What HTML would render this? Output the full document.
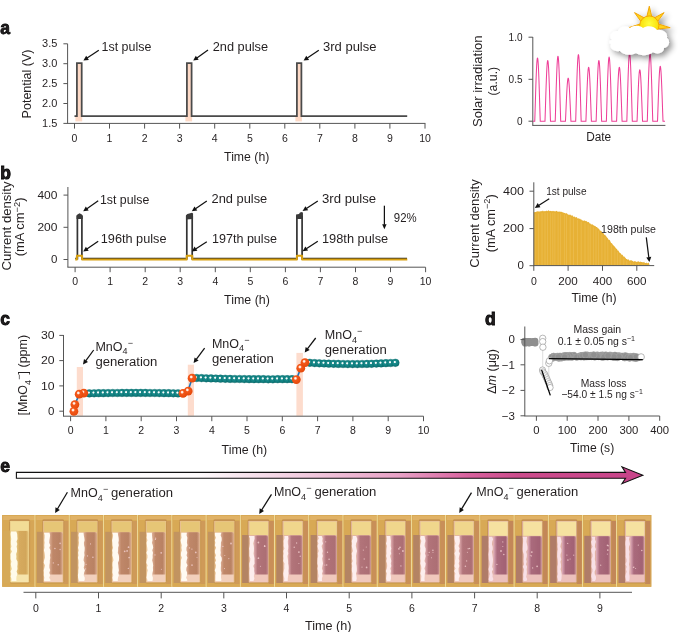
<!DOCTYPE html><html><head><meta charset="utf-8"><style>html,body{margin:0;padding:0;background:#fff;width:685px;height:632px;overflow:hidden}svg{display:block;will-change:transform}text{font-family:"Liberation Sans",sans-serif;fill:#231f20}</style></head><body>
<svg width="685" height="632" viewBox="0 0 685 632">
<defs><linearGradient id="garrow" gradientUnits="userSpaceOnUse" x1="16" x2="643" y1="0" y2="0"><stop offset="0" stop-color="#ffffff"/><stop offset="0.29" stop-color="#fefbfc"/><stop offset="0.36" stop-color="#f8e6ef"/><stop offset="0.61" stop-color="#e8a2c6"/><stop offset="0.72" stop-color="#d8629e"/><stop offset="0.80" stop-color="#cc4c8c"/><stop offset="1" stop-color="#c8448a"/></linearGradient><radialGradient id="gsun" cx="0.5" cy="0.4" r="0.6"><stop offset="0" stop-color="#ffff40"/><stop offset="1" stop-color="#f8d800"/></radialGradient><filter id="shadow" x="-30%" y="-30%" width="170%" height="180%"><feGaussianBlur in="SourceAlpha" stdDeviation="3.0"/><feOffset dx="2.5" dy="2.5" result="b"/><feComponentTransfer><feFuncA type="linear" slope="0.45"/></feComponentTransfer><feMerge><feMergeNode/><feMergeNode in="SourceGraphic"/></feMerge></filter><filter id="blur1"><feGaussianBlur stdDeviation="0.6"/></filter><filter id="blur2"><feGaussianBlur stdDeviation="1.0"/></filter></defs>
<text x="0.3" y="34.0" font-size="17.5" text-anchor="start" font-weight="bold" fill="#000" stroke="#000" stroke-width="0.8">a</text>
<text x="0.3" y="179.0" font-size="17.5" text-anchor="start" font-weight="bold" fill="#000" stroke="#000" stroke-width="0.8">b</text>
<text x="0.3" y="325.0" font-size="17.5" text-anchor="start" font-weight="bold" fill="#000" stroke="#000" stroke-width="0.8">c</text>
<text x="485.0" y="325.4" font-size="17.5" text-anchor="start" font-weight="bold" fill="#000" stroke="#000" stroke-width="0.8">d</text>
<text x="0.3" y="472.4" font-size="17.5" text-anchor="start" font-weight="bold" fill="#000" stroke="#000" stroke-width="0.8">e</text>
<rect x="76.9" y="63" width="4.8" height="54" fill="#fdd9c6"/>
<rect x="75.4" y="116.5" width="6.8" height="4.9" fill="#fdd9c6"/>
<rect x="186.9" y="63" width="4.7" height="54" fill="#fdd9c6"/>
<rect x="185.4" y="116.5" width="6.7" height="4.9" fill="#fdd9c6"/>
<rect x="296.9" y="63" width="4.5" height="54" fill="#fdd9c6"/>
<rect x="295.4" y="116.5" width="6.5" height="4.9" fill="#fdd9c6"/>
<line x1="67.6" y1="43.8" x2="67.6" y2="123.4" stroke="#555" stroke-width="1" />
<line x1="67.1" y1="123.4" x2="425.4" y2="123.4" stroke="#555" stroke-width="1" />
<line x1="63.4" y1="43.8" x2="67.6" y2="43.8" stroke="#555" stroke-width="1" />
<text x="57.4" y="47.4" font-size="10.5" text-anchor="end" textLength="15.3" lengthAdjust="spacingAndGlyphs" >3.5</text>
<line x1="63.4" y1="63.7" x2="67.6" y2="63.7" stroke="#555" stroke-width="1" />
<text x="57.4" y="67.3" font-size="10.5" text-anchor="end" textLength="15.3" lengthAdjust="spacingAndGlyphs" >3.0</text>
<line x1="63.4" y1="83.6" x2="67.6" y2="83.6" stroke="#555" stroke-width="1" />
<text x="57.4" y="87.2" font-size="10.5" text-anchor="end" textLength="15.3" lengthAdjust="spacingAndGlyphs" >2.5</text>
<line x1="63.4" y1="103.5" x2="67.6" y2="103.5" stroke="#555" stroke-width="1" />
<text x="57.4" y="107.1" font-size="10.5" text-anchor="end" textLength="15.3" lengthAdjust="spacingAndGlyphs" >2.0</text>
<line x1="63.4" y1="123.4" x2="67.6" y2="123.4" stroke="#555" stroke-width="1" />
<text x="57.4" y="127.0" font-size="10.5" text-anchor="end" textLength="15.3" lengthAdjust="spacingAndGlyphs" >1.5</text>
<line x1="74.5" y1="123.4" x2="74.5" y2="128.6" stroke="#555" stroke-width="1" />
<text x="74.5" y="141.8" font-size="10.5" text-anchor="middle" >0</text>
<line x1="109.5" y1="123.4" x2="109.5" y2="128.6" stroke="#555" stroke-width="1" />
<text x="109.5" y="141.8" font-size="10.5" text-anchor="middle" >1</text>
<line x1="144.6" y1="123.4" x2="144.6" y2="128.6" stroke="#555" stroke-width="1" />
<text x="144.6" y="141.8" font-size="10.5" text-anchor="middle" >2</text>
<line x1="179.6" y1="123.4" x2="179.6" y2="128.6" stroke="#555" stroke-width="1" />
<text x="179.6" y="141.8" font-size="10.5" text-anchor="middle" >3</text>
<line x1="214.7" y1="123.4" x2="214.7" y2="128.6" stroke="#555" stroke-width="1" />
<text x="214.7" y="141.8" font-size="10.5" text-anchor="middle" >4</text>
<line x1="249.8" y1="123.4" x2="249.8" y2="128.6" stroke="#555" stroke-width="1" />
<text x="249.8" y="141.8" font-size="10.5" text-anchor="middle" >5</text>
<line x1="284.8" y1="123.4" x2="284.8" y2="128.6" stroke="#555" stroke-width="1" />
<text x="284.8" y="141.8" font-size="10.5" text-anchor="middle" >6</text>
<line x1="319.8" y1="123.4" x2="319.8" y2="128.6" stroke="#555" stroke-width="1" />
<text x="319.8" y="141.8" font-size="10.5" text-anchor="middle" >7</text>
<line x1="354.9" y1="123.4" x2="354.9" y2="128.6" stroke="#555" stroke-width="1" />
<text x="354.9" y="141.8" font-size="10.5" text-anchor="middle" >8</text>
<line x1="389.9" y1="123.4" x2="389.9" y2="128.6" stroke="#555" stroke-width="1" />
<text x="389.9" y="141.8" font-size="10.5" text-anchor="middle" >9</text>
<line x1="425.0" y1="123.4" x2="425.0" y2="128.6" stroke="#555" stroke-width="1" />
<text x="425.0" y="141.8" font-size="10.5" text-anchor="middle" >10</text>
<path d="M74.5,116.0 H76.9 V63.1 H81.7 V116.0 H186.9 V63.1 H191.6 V116.0 H296.9 V63.1 H301.4 V116.0 H407.2" fill="none" stroke="#4a4a4a" stroke-width="1.75"/>
<text x="101.5" y="51.0" font-size="12.5" text-anchor="start" textLength="49.8" lengthAdjust="spacingAndGlyphs" >1st pulse</text>
<text x="212.7" y="50.9" font-size="12.5" text-anchor="start" textLength="55.4" lengthAdjust="spacingAndGlyphs" >2nd pulse</text>
<text x="323.0" y="50.9" font-size="12.5" text-anchor="start" textLength="53.5" lengthAdjust="spacingAndGlyphs" >3rd pulse</text>
<line x1="98.8" y1="50.3" x2="87.1" y2="58.1" stroke="#111" stroke-width="1.25" />
<polygon points="83.4,60.6 86.2,55.7 88.9,59.9" fill="#111"/>
<line x1="208.0" y1="50.1" x2="196.9" y2="58.0" stroke="#111" stroke-width="1.25" />
<polygon points="193.2,60.6 195.8,55.7 198.7,59.7" fill="#111"/>
<line x1="318.8" y1="50.3" x2="307.3" y2="58.1" stroke="#111" stroke-width="1.25" />
<polygon points="303.6,60.6 306.3,55.7 309.1,59.9" fill="#111"/>
<text x="224.1" y="160.8" font-size="12.5" text-anchor="start" textLength="45.2" lengthAdjust="spacingAndGlyphs" >Time (h)</text>
<text transform="translate(30.6,84.0) rotate(-90)" x="0" y="0" font-size="12.5" text-anchor="middle" textLength="68.8" lengthAdjust="spacingAndGlyphs">Potential (V)</text>
<line x1="532.8" y1="37.0" x2="532.8" y2="125.4" stroke="#555" stroke-width="1" />
<line x1="532.3" y1="125.4" x2="665.4" y2="125.4" stroke="#555" stroke-width="1" />
<line x1="528.5" y1="37.2" x2="532.8" y2="37.2" stroke="#555" stroke-width="1" />
<text x="522.5" y="40.5" font-size="10" text-anchor="end" >1.0</text>
<line x1="528.5" y1="79.3" x2="532.8" y2="79.3" stroke="#555" stroke-width="1" />
<text x="522.5" y="82.6" font-size="10" text-anchor="end" >0.5</text>
<line x1="528.5" y1="121.2" x2="532.8" y2="121.2" stroke="#555" stroke-width="1" />
<text x="522.5" y="124.5" font-size="10" text-anchor="end" >0</text>
<polyline fill="none" stroke="#ee3f98" stroke-width="1.05" points="533.00,121.20 534.75,121.20 534.80,119.80 534.86,118.19 534.91,116.51 534.97,114.77 535.02,112.99 535.08,111.19 535.13,109.37 535.19,107.54 535.25,105.69 535.30,103.85 535.36,102.00 535.41,100.16 535.47,98.33 535.52,96.51 535.58,94.71 535.63,92.92 535.68,91.15 535.74,89.41 535.79,87.69 535.85,86.00 535.90,84.34 535.96,82.72 536.01,81.13 536.07,79.58 536.12,78.07 536.18,76.60 536.24,75.17 536.29,73.79 536.35,72.46 536.40,71.18 536.46,69.95 536.51,68.78 536.57,67.65 536.62,66.59 536.67,65.58 536.73,64.63 536.78,63.74 536.84,62.91 536.89,62.14 536.95,61.44 537.00,60.80 537.06,60.23 537.12,59.72 537.17,59.28 537.23,58.90 537.28,58.60 537.34,58.36 537.39,58.19 537.45,58.08 537.50,58.05 537.55,58.08 537.61,58.19 537.66,58.36 537.72,58.60 537.77,58.90 537.83,59.28 537.88,59.72 537.94,60.23 538.00,60.80 538.05,61.44 538.11,62.14 538.16,62.91 538.22,63.74 538.27,64.63 538.33,65.58 538.38,66.59 538.43,67.65 538.49,68.78 538.54,69.95 538.60,71.18 538.65,72.46 538.71,73.79 538.76,75.17 538.82,76.60 538.88,78.07 538.93,79.58 538.99,81.13 539.04,82.72 539.10,84.34 539.15,86.00 539.21,87.69 539.26,89.41 539.32,91.15 539.37,92.92 539.42,94.71 539.48,96.51 539.53,98.33 539.59,100.16 539.64,102.00 539.70,103.85 539.75,105.69 539.81,107.54 539.87,109.37 539.92,111.19 539.98,112.99 540.03,114.77 540.09,116.51 540.14,118.19 540.20,119.80 540.25,121.20 544.98,121.20 545.03,119.85 545.09,118.31 545.14,116.70 545.20,115.03 545.25,113.32 545.31,111.59 545.37,109.84 545.42,108.08 545.48,106.31 545.53,104.54 545.59,102.77 545.64,101.01 545.70,99.25 545.75,97.50 545.81,95.77 545.86,94.05 545.91,92.35 545.97,90.68 546.02,89.03 546.08,87.41 546.13,85.82 546.19,84.26 546.25,82.73 546.30,81.24 546.36,79.79 546.41,78.38 546.47,77.01 546.52,75.69 546.58,74.41 546.63,73.18 546.69,72.00 546.74,70.87 546.80,69.80 546.85,68.77 546.90,67.80 546.96,66.89 547.01,66.04 547.07,65.24 547.12,64.51 547.18,63.83 547.24,63.22 547.29,62.67 547.35,62.18 547.40,61.76 547.46,61.40 547.51,61.10 547.57,60.87 547.62,60.71 547.68,60.61 547.73,60.58 547.78,60.61 547.84,60.71 547.89,60.87 547.95,61.10 548.00,61.40 548.06,61.76 548.12,62.18 548.17,62.67 548.23,63.22 548.28,63.83 548.34,64.51 548.39,65.24 548.45,66.04 548.50,66.89 548.56,67.80 548.61,68.77 548.66,69.80 548.72,70.87 548.77,72.00 548.83,73.18 548.88,74.41 548.94,75.69 549.00,77.01 549.05,78.38 549.11,79.79 549.16,81.24 549.22,82.73 549.27,84.26 549.33,85.82 549.38,87.41 549.44,89.03 549.49,90.68 549.55,92.35 549.60,94.05 549.65,95.77 549.71,97.50 549.76,99.25 549.82,101.01 549.88,102.77 549.93,104.54 549.99,106.31 550.04,108.08 550.10,109.84 550.15,111.59 550.21,113.32 550.26,115.03 550.32,116.70 550.37,118.31 550.43,119.85 550.48,121.20 555.21,121.20 555.26,119.76 555.32,118.11 555.38,116.38 555.43,114.60 555.49,112.78 555.54,110.92 555.60,109.05 555.65,107.17 555.71,105.28 555.76,103.39 555.82,101.49 555.87,99.60 555.93,97.72 555.98,95.85 556.04,94.00 556.09,92.17 556.14,90.35 556.20,88.56 556.25,86.80 556.31,85.06 556.37,83.36 556.42,81.69 556.48,80.06 556.53,78.47 556.59,76.92 556.64,75.41 556.70,73.95 556.75,72.53 556.81,71.16 556.86,69.85 556.92,68.59 556.97,67.38 557.03,66.23 557.08,65.13 557.13,64.10 557.19,63.12 557.25,62.21 557.30,61.36 557.36,60.57 557.41,59.85 557.47,59.19 557.52,58.60 557.58,58.08 557.63,57.63 557.69,57.24 557.74,56.93 557.80,56.68 557.85,56.51 557.91,56.40 557.96,56.37 558.01,56.40 558.07,56.51 558.12,56.68 558.18,56.93 558.24,57.24 558.29,57.63 558.35,58.08 558.40,58.60 558.46,59.19 558.51,59.85 558.57,60.57 558.62,61.36 558.68,62.21 558.73,63.12 558.79,64.10 558.84,65.13 558.89,66.23 558.95,67.38 559.00,68.59 559.06,69.85 559.12,71.16 559.17,72.53 559.23,73.95 559.28,75.41 559.34,76.92 559.39,78.47 559.45,80.06 559.50,81.69 559.56,83.36 559.61,85.06 559.67,86.80 559.72,88.56 559.78,90.35 559.83,92.17 559.88,94.00 559.94,95.85 560.00,97.72 560.05,99.60 560.11,101.49 560.16,103.39 560.22,105.28 560.27,107.17 560.33,109.05 560.38,110.92 560.44,112.78 560.49,114.60 560.55,116.38 560.60,118.11 560.66,119.76 560.71,121.20 565.44,121.20 565.50,120.25 565.55,119.16 565.61,118.01 565.66,116.83 565.72,115.62 565.77,114.39 565.83,113.16 565.88,111.91 565.94,110.66 565.99,109.40 566.05,108.15 566.10,106.90 566.16,105.65 566.21,104.41 566.27,103.19 566.32,101.97 566.38,100.77 566.43,99.58 566.49,98.41 566.54,97.27 566.60,96.14 566.65,95.03 566.71,93.95 566.76,92.90 566.82,91.87 566.87,90.87 566.93,89.90 566.98,88.96 567.04,88.06 567.09,87.19 567.15,86.35 567.20,85.55 567.26,84.79 567.31,84.06 567.37,83.38 567.42,82.73 567.48,82.13 567.53,81.56 567.59,81.04 567.64,80.56 567.70,80.13 567.75,79.74 567.81,79.39 567.86,79.09 567.92,78.84 567.97,78.63 568.03,78.47 568.08,78.35 568.14,78.28 568.19,78.26 568.25,78.28 568.30,78.35 568.36,78.47 568.41,78.63 568.47,78.84 568.52,79.09 568.58,79.39 568.63,79.74 568.69,80.13 568.74,80.56 568.80,81.04 568.85,81.56 568.91,82.13 568.96,82.73 569.02,83.38 569.07,84.06 569.12,84.79 569.18,85.55 569.24,86.35 569.29,87.19 569.35,88.06 569.40,88.96 569.46,89.90 569.51,90.87 569.57,91.87 569.62,92.90 569.68,93.95 569.73,95.03 569.79,96.14 569.84,97.27 569.90,98.41 569.95,99.58 570.01,100.77 570.06,101.97 570.12,103.19 570.17,104.41 570.23,105.65 570.28,106.90 570.34,108.15 570.39,109.40 570.45,110.66 570.50,111.91 570.56,113.16 570.61,114.39 570.67,115.62 570.72,116.83 570.78,118.01 570.83,119.16 570.89,120.25 570.94,121.20 575.67,121.20 575.72,119.72 575.78,118.03 575.83,116.26 575.89,114.43 575.94,112.56 576.00,110.66 576.05,108.74 576.11,106.81 576.16,104.87 576.22,102.92 576.27,100.98 576.33,99.04 576.38,97.11 576.44,95.20 576.50,93.29 576.55,91.41 576.60,89.55 576.66,87.71 576.71,85.90 576.77,84.13 576.82,82.38 576.88,80.67 576.93,78.99 576.99,77.36 577.04,75.77 577.10,74.22 577.15,72.72 577.21,71.27 577.26,69.86 577.32,68.51 577.38,67.22 577.43,65.98 577.49,64.80 577.54,63.67 577.59,62.61 577.65,61.61 577.70,60.67 577.76,59.80 577.81,58.99 577.87,58.25 577.92,57.58 577.98,56.98 578.03,56.44 578.09,55.98 578.14,55.58 578.20,55.26 578.25,55.01 578.31,54.83 578.37,54.72 578.42,54.68 578.47,54.72 578.53,54.83 578.58,55.01 578.64,55.26 578.69,55.58 578.75,55.98 578.80,56.44 578.86,56.98 578.91,57.58 578.97,58.25 579.02,58.99 579.08,59.80 579.13,60.67 579.19,61.61 579.25,62.61 579.30,63.67 579.35,64.80 579.41,65.98 579.46,67.22 579.52,68.51 579.57,69.86 579.63,71.27 579.68,72.72 579.74,74.22 579.79,75.77 579.85,77.36 579.90,78.99 579.96,80.67 580.01,82.38 580.07,84.13 580.12,85.90 580.18,87.71 580.24,89.55 580.29,91.41 580.34,93.29 580.40,95.20 580.45,97.11 580.51,99.04 580.56,100.98 580.62,102.92 580.67,104.87 580.73,106.81 580.78,108.74 580.84,110.66 580.89,112.56 580.95,114.43 581.00,116.26 581.06,118.03 581.12,119.72 581.17,121.20 585.90,121.20 585.95,120.00 586.01,118.63 586.06,117.20 586.12,115.71 586.17,114.20 586.23,112.66 586.28,111.10 586.34,109.54 586.39,107.97 586.45,106.39 586.50,104.82 586.56,103.25 586.62,101.69 586.67,100.13 586.73,98.59 586.78,97.07 586.83,95.56 586.89,94.07 586.94,92.61 587.00,91.16 587.05,89.75 587.11,88.36 587.16,87.01 587.22,85.68 587.27,84.39 587.33,83.14 587.38,81.92 587.44,80.75 587.50,79.61 587.55,78.52 587.61,77.47 587.66,76.46 587.72,75.51 587.77,74.60 587.82,73.74 587.88,72.93 587.93,72.17 587.99,71.46 588.04,70.81 588.10,70.21 588.15,69.66 588.21,69.17 588.26,68.74 588.32,68.36 588.38,68.04 588.43,67.78 588.49,67.58 588.54,67.43 588.60,67.34 588.65,67.31 588.70,67.34 588.76,67.43 588.81,67.58 588.87,67.78 588.92,68.04 588.98,68.36 589.03,68.74 589.09,69.17 589.14,69.66 589.20,70.21 589.25,70.81 589.31,71.46 589.37,72.17 589.42,72.93 589.48,73.74 589.53,74.60 589.58,75.51 589.64,76.46 589.69,77.47 589.75,78.52 589.80,79.61 589.86,80.75 589.91,81.92 589.97,83.14 590.02,84.39 590.08,85.68 590.13,87.01 590.19,88.36 590.25,89.75 590.30,91.16 590.36,92.61 590.41,94.07 590.47,95.56 590.52,97.07 590.57,98.59 590.63,100.13 590.68,101.69 590.74,103.25 590.79,104.82 590.85,106.39 590.90,107.97 590.96,109.54 591.01,111.10 591.07,112.66 591.12,114.20 591.18,115.71 591.24,117.20 591.29,118.63 591.35,120.00 591.40,121.20 596.13,121.20 596.18,119.85 596.24,118.31 596.29,116.70 596.35,115.03 596.40,113.32 596.46,111.59 596.51,109.84 596.57,108.08 596.62,106.31 596.68,104.54 596.74,102.77 596.79,101.01 596.85,99.25 596.90,97.50 596.96,95.77 597.01,94.05 597.06,92.35 597.12,90.68 597.17,89.03 597.23,87.41 597.28,85.82 597.34,84.26 597.39,82.73 597.45,81.24 597.50,79.79 597.56,78.38 597.62,77.01 597.67,75.69 597.73,74.41 597.78,73.18 597.84,72.00 597.89,70.87 597.95,69.80 598.00,68.77 598.05,67.80 598.11,66.89 598.16,66.04 598.22,65.24 598.27,64.51 598.33,63.83 598.38,63.22 598.44,62.67 598.50,62.18 598.55,61.76 598.61,61.40 598.66,61.10 598.72,60.87 598.77,60.71 598.83,60.61 598.88,60.58 598.93,60.61 598.99,60.71 599.04,60.87 599.10,61.10 599.15,61.40 599.21,61.76 599.26,62.18 599.32,62.67 599.38,63.22 599.43,63.83 599.49,64.51 599.54,65.24 599.60,66.04 599.65,66.89 599.71,67.80 599.76,68.77 599.81,69.80 599.87,70.87 599.92,72.00 599.98,73.18 600.03,74.41 600.09,75.69 600.14,77.01 600.20,78.38 600.25,79.79 600.31,81.24 600.37,82.73 600.42,84.26 600.48,85.82 600.53,87.41 600.59,89.03 600.64,90.68 600.70,92.35 600.75,94.05 600.80,95.77 600.86,97.50 600.91,99.25 600.97,101.01 601.02,102.77 601.08,104.54 601.13,106.31 601.19,108.08 601.25,109.84 601.30,111.59 601.36,113.32 601.41,115.03 601.47,116.70 601.52,118.31 601.58,119.85 601.63,121.20 606.36,121.20 606.41,119.78 606.47,118.15 606.52,116.45 606.58,114.68 606.63,112.88 606.69,111.06 606.75,109.21 606.80,107.35 606.86,105.49 606.91,103.62 606.97,101.75 607.02,99.88 607.08,98.03 607.13,96.18 607.19,94.35 607.24,92.54 607.29,90.75 607.35,88.99 607.40,87.24 607.46,85.53 607.51,83.85 607.57,82.21 607.62,80.60 607.68,79.02 607.74,77.49 607.79,76.00 607.85,74.56 607.90,73.16 607.96,71.81 608.01,70.52 608.07,69.27 608.12,68.08 608.18,66.94 608.23,65.86 608.28,64.84 608.34,63.87 608.39,62.97 608.45,62.13 608.50,61.36 608.56,60.64 608.62,60.00 608.67,59.42 608.73,58.90 608.78,58.45 608.84,58.07 608.89,57.76 608.95,57.52 609.00,57.35 609.06,57.24 609.11,57.21 609.16,57.24 609.22,57.35 609.27,57.52 609.33,57.76 609.38,58.07 609.44,58.45 609.50,58.90 609.55,59.42 609.61,60.00 609.66,60.64 609.72,61.36 609.77,62.13 609.83,62.97 609.88,63.87 609.94,64.84 609.99,65.86 610.04,66.94 610.10,68.08 610.15,69.27 610.21,70.52 610.26,71.81 610.32,73.16 610.38,74.56 610.43,76.00 610.49,77.49 610.54,79.02 610.60,80.60 610.65,82.21 610.71,83.85 610.76,85.53 610.82,87.24 610.87,88.99 610.93,90.75 610.98,92.54 611.03,94.35 611.09,96.18 611.14,98.03 611.20,99.88 611.25,101.75 611.31,103.62 611.37,105.49 611.42,107.35 611.48,109.21 611.53,111.06 611.59,112.88 611.64,114.68 611.70,116.45 611.75,118.15 611.81,119.78 611.86,121.20 616.59,121.20 616.64,120.00 616.70,118.63 616.75,117.20 616.81,115.71 616.87,114.20 616.92,112.66 616.98,111.10 617.03,109.54 617.09,107.97 617.14,106.39 617.20,104.82 617.25,103.25 617.31,101.69 617.36,100.13 617.42,98.59 617.47,97.07 617.52,95.56 617.58,94.07 617.63,92.61 617.69,91.16 617.75,89.75 617.80,88.36 617.86,87.01 617.91,85.68 617.97,84.39 618.02,83.14 618.08,81.92 618.13,80.75 618.19,79.61 618.24,78.52 618.30,77.47 618.35,76.46 618.41,75.51 618.46,74.60 618.51,73.74 618.57,72.93 618.62,72.17 618.68,71.46 618.74,70.81 618.79,70.21 618.85,69.66 618.90,69.17 618.96,68.74 619.01,68.36 619.07,68.04 619.12,67.78 619.18,67.58 619.23,67.43 619.29,67.34 619.34,67.31 619.39,67.34 619.45,67.43 619.50,67.58 619.56,67.78 619.62,68.04 619.67,68.36 619.73,68.74 619.78,69.17 619.84,69.66 619.89,70.21 619.95,70.81 620.00,71.46 620.06,72.17 620.11,72.93 620.17,73.74 620.22,74.60 620.27,75.51 620.33,76.46 620.38,77.47 620.44,78.52 620.50,79.61 620.55,80.75 620.61,81.92 620.66,83.14 620.72,84.39 620.77,85.68 620.83,87.01 620.88,88.36 620.94,89.75 620.99,91.16 621.05,92.61 621.10,94.07 621.16,95.56 621.21,97.07 621.26,98.59 621.32,100.13 621.38,101.69 621.43,103.25 621.49,104.82 621.54,106.39 621.60,107.97 621.65,109.54 621.71,111.10 621.76,112.66 621.82,114.20 621.87,115.71 621.93,117.20 621.98,118.63 622.04,120.00 622.09,121.20 626.82,121.20 626.88,119.68 626.93,117.95 626.99,116.13 627.04,114.26 627.10,112.34 627.15,110.39 627.21,108.42 627.26,106.44 627.32,104.45 627.37,102.46 627.43,100.47 627.48,98.48 627.54,96.50 627.59,94.54 627.65,92.59 627.70,90.66 627.75,88.75 627.81,86.87 627.87,85.01 627.92,83.19 627.98,81.40 628.03,79.64 628.09,77.92 628.14,76.25 628.20,74.62 628.25,73.03 628.31,71.49 628.36,70.00 628.42,68.56 628.47,67.18 628.53,65.85 628.58,64.58 628.64,63.37 628.69,62.22 628.75,61.13 628.80,60.10 628.86,59.14 628.91,58.25 628.97,57.42 629.02,56.66 629.08,55.97 629.13,55.35 629.19,54.80 629.24,54.33 629.30,53.92 629.35,53.59 629.41,53.33 629.46,53.15 629.52,53.04 629.57,53.00 629.62,53.04 629.68,53.15 629.74,53.33 629.79,53.59 629.85,53.92 629.90,54.33 629.96,54.80 630.01,55.35 630.07,55.97 630.12,56.66 630.18,57.42 630.23,58.25 630.29,59.14 630.34,60.10 630.40,61.13 630.45,62.22 630.50,63.37 630.56,64.58 630.62,65.85 630.67,67.18 630.73,68.56 630.78,70.00 630.84,71.49 630.89,73.03 630.95,74.62 631.00,76.25 631.06,77.92 631.11,79.64 631.17,81.40 631.22,83.19 631.28,85.01 631.33,86.87 631.39,88.75 631.44,90.66 631.50,92.59 631.55,94.54 631.61,96.50 631.66,98.48 631.72,100.47 631.77,102.46 631.83,104.45 631.88,106.44 631.94,108.42 631.99,110.39 632.05,112.34 632.10,114.26 632.16,116.13 632.21,117.95 632.27,119.68 632.32,121.20 637.05,121.20 637.10,120.06 637.16,118.75 637.21,117.38 637.27,115.97 637.32,114.53 637.38,113.06 637.43,111.58 637.49,110.09 637.54,108.59 637.60,107.09 637.65,105.59 637.71,104.09 637.76,102.60 637.82,101.12 637.88,99.65 637.93,98.20 637.98,96.76 638.04,95.34 638.09,93.95 638.15,92.57 638.20,91.22 638.26,89.90 638.31,88.61 638.37,87.35 638.42,86.12 638.48,84.92 638.53,83.76 638.59,82.64 638.64,81.56 638.70,80.52 638.75,79.52 638.81,78.56 638.87,77.65 638.92,76.78 638.97,75.96 639.03,75.19 639.08,74.47 639.14,73.79 639.19,73.17 639.25,72.60 639.30,72.08 639.36,71.61 639.41,71.20 639.47,70.84 639.52,70.53 639.58,70.28 639.63,70.09 639.69,69.95 639.75,69.87 639.80,69.84 639.85,69.87 639.91,69.95 639.96,70.09 640.02,70.28 640.07,70.53 640.13,70.84 640.18,71.20 640.24,71.61 640.29,72.08 640.35,72.60 640.40,73.17 640.46,73.79 640.51,74.47 640.57,75.19 640.62,75.96 640.68,76.78 640.73,77.65 640.79,78.56 640.84,79.52 640.90,80.52 640.95,81.56 641.01,82.64 641.06,83.76 641.12,84.92 641.17,86.12 641.23,87.35 641.28,88.61 641.34,89.90 641.39,91.22 641.45,92.57 641.50,93.95 641.56,95.34 641.62,96.76 641.67,98.20 641.72,99.65 641.78,101.12 641.83,102.60 641.89,104.09 641.94,105.59 642.00,107.09 642.05,108.59 642.11,110.09 642.16,111.58 642.22,113.06 642.27,114.53 642.33,115.97 642.38,117.38 642.44,118.75 642.50,120.06 642.55,121.20 647.28,121.20 647.33,119.70 647.39,117.99 647.44,116.20 647.50,114.34 647.55,112.45 647.61,110.52 647.66,108.58 647.72,106.62 647.77,104.66 647.83,102.69 647.88,100.72 647.94,98.76 648.00,96.81 648.05,94.87 648.11,92.94 648.16,91.03 648.21,89.15 648.27,87.29 648.32,85.46 648.38,83.66 648.43,81.89 648.49,80.15 648.54,78.46 648.60,76.80 648.65,75.19 648.71,73.62 648.76,72.10 648.82,70.63 648.88,69.21 648.93,67.85 648.99,66.54 649.04,65.28 649.10,64.08 649.15,62.95 649.20,61.87 649.26,60.86 649.31,59.91 649.37,59.02 649.42,58.21 649.48,57.46 649.53,56.78 649.59,56.16 649.64,55.62 649.70,55.15 649.75,54.75 649.81,54.42 649.87,54.17 649.92,53.99 649.98,53.88 650.03,53.84 650.08,53.88 650.14,53.99 650.19,54.17 650.25,54.42 650.30,54.75 650.36,55.15 650.41,55.62 650.47,56.16 650.52,56.78 650.58,57.46 650.63,58.21 650.69,59.02 650.75,59.91 650.80,60.86 650.86,61.87 650.91,62.95 650.96,64.08 651.02,65.28 651.07,66.54 651.13,67.85 651.18,69.21 651.24,70.63 651.29,72.10 651.35,73.62 651.40,75.19 651.46,76.80 651.51,78.46 651.57,80.15 651.62,81.89 651.68,83.66 651.74,85.46 651.79,87.29 651.85,89.15 651.90,91.03 651.95,92.94 652.01,94.87 652.06,96.81 652.12,98.76 652.17,100.72 652.23,102.69 652.28,104.66 652.34,106.62 652.39,108.58 652.45,110.52 652.50,112.45 652.56,114.34 652.62,116.20 652.67,117.99 652.73,119.70 652.78,121.20 657.51,121.20 657.56,119.98 657.62,118.59 657.67,117.13 657.73,115.63 657.78,114.09 657.84,112.53 657.89,110.95 657.95,109.36 658.00,107.76 658.06,106.16 658.12,104.56 658.17,102.97 658.23,101.38 658.28,99.80 658.34,98.24 658.39,96.69 658.44,95.16 658.50,93.65 658.55,92.16 658.61,90.70 658.66,89.26 658.72,87.85 658.77,86.47 658.83,85.13 658.88,83.82 658.94,82.55 659.00,81.31 659.05,80.11 659.11,78.96 659.16,77.85 659.22,76.79 659.27,75.77 659.33,74.79 659.38,73.87 659.43,72.99 659.49,72.17 659.54,71.40 659.60,70.68 659.65,70.02 659.71,69.41 659.76,68.86 659.82,68.36 659.88,67.92 659.93,67.54 659.99,67.21 660.04,66.94 660.10,66.74 660.15,66.59 660.21,66.50 660.26,66.47 660.31,66.50 660.37,66.59 660.42,66.74 660.48,66.94 660.53,67.21 660.59,67.54 660.64,67.92 660.70,68.36 660.75,68.86 660.81,69.41 660.87,70.02 660.92,70.68 660.98,71.40 661.03,72.17 661.09,72.99 661.14,73.87 661.19,74.79 661.25,75.77 661.30,76.79 661.36,77.85 661.41,78.96 661.47,80.11 661.52,81.31 661.58,82.55 661.63,83.82 661.69,85.13 661.75,86.47 661.80,87.85 661.86,89.26 661.91,90.70 661.97,92.16 662.02,93.65 662.08,95.16 662.13,96.69 662.18,98.24 662.24,99.80 662.29,101.38 662.35,102.97 662.40,104.56 662.46,106.16 662.51,107.76 662.57,109.36 662.62,110.95 662.68,112.53 662.74,114.09 662.79,115.63 662.85,117.13 662.90,118.59 662.96,119.98 663.01,121.20 665.00,121.20"/>
<text x="586.2" y="140.6" font-size="12.5" text-anchor="start" textLength="25.0" lengthAdjust="spacingAndGlyphs" >Date</text>
<text transform="translate(482.4,81.2) rotate(-90)" x="0" y="0" font-size="12.5" text-anchor="middle" textLength="91.5" lengthAdjust="spacingAndGlyphs">Solar irradiation</text>
<text transform="translate(496.6,81.2) rotate(-90)" x="0" y="0" font-size="12.5" text-anchor="middle" textLength="28.7" lengthAdjust="spacingAndGlyphs">(a.u.)</text>
<g filter="url(#shadow)">
<polygon points="649.3,6.2 652.1,18.0 646.5,18.0" fill="#ffd21a" stroke="#f0a000" stroke-width="0.9" stroke-linejoin="round"/><polygon points="634.5,12.6 645.5,18.5 641.8,22.7" fill="#ffd21a" stroke="#f0a000" stroke-width="0.9" stroke-linejoin="round"/><polygon points="664.1,12.6 656.8,22.7 653.1,18.5" fill="#ffd21a" stroke="#f0a000" stroke-width="0.9" stroke-linejoin="round"/><polygon points="670.2,27.7 656.5,29.1 657.0,23.5" fill="#ffd21a" stroke="#f0a000" stroke-width="0.9" stroke-linejoin="round"/><polygon points="628.9,27.6 641.6,23.5 642.1,29.1" fill="#ffd21a" stroke="#f0a000" stroke-width="0.9" stroke-linejoin="round"/>
<circle cx="649.3" cy="25.5" r="9.6" fill="url(#gsun)" stroke="#f0a000" stroke-width="0.9"/>
<path d="M612,40 C608,36 612,30 618,31 C619,27 626,25 630,28 C633,25 640,25 643,28 C647,25 655,26 657,30 C663,29 668,33 667,38 C671,41 669,47 664,48 C664,53 657,55 653,52 C649,56 640,56 636,53 C631,56 623,55 620,51 C614,52 609,48 611,44 C608,43 609,40 612,40 Z" fill="#fff"/>
</g>
<line x1="67.9" y1="187.0" x2="67.9" y2="267.2" stroke="#555" stroke-width="1" />
<line x1="67.4" y1="267.2" x2="425.5" y2="267.2" stroke="#555" stroke-width="1" />
<line x1="63.5" y1="195.1" x2="67.9" y2="195.1" stroke="#555" stroke-width="1" />
<text x="57.4" y="198.7" font-size="11.5" text-anchor="end" textLength="20.0" lengthAdjust="spacingAndGlyphs" >400</text>
<line x1="63.5" y1="227.3" x2="67.9" y2="227.3" stroke="#555" stroke-width="1" />
<text x="57.4" y="230.9" font-size="11.5" text-anchor="end" textLength="20.0" lengthAdjust="spacingAndGlyphs" >200</text>
<line x1="63.5" y1="259.5" x2="67.9" y2="259.5" stroke="#555" stroke-width="1" />
<text x="57.4" y="263.1" font-size="11.5" text-anchor="end" >0</text>
<line x1="75.1" y1="267.2" x2="75.1" y2="272.2" stroke="#555" stroke-width="1" />
<text x="75.1" y="285.4" font-size="10.5" text-anchor="middle" >0</text>
<line x1="110.1" y1="267.2" x2="110.1" y2="272.2" stroke="#555" stroke-width="1" />
<text x="110.1" y="285.4" font-size="10.5" text-anchor="middle" >1</text>
<line x1="145.2" y1="267.2" x2="145.2" y2="272.2" stroke="#555" stroke-width="1" />
<text x="145.2" y="285.4" font-size="10.5" text-anchor="middle" >2</text>
<line x1="180.2" y1="267.2" x2="180.2" y2="272.2" stroke="#555" stroke-width="1" />
<text x="180.2" y="285.4" font-size="10.5" text-anchor="middle" >3</text>
<line x1="215.3" y1="267.2" x2="215.3" y2="272.2" stroke="#555" stroke-width="1" />
<text x="215.3" y="285.4" font-size="10.5" text-anchor="middle" >4</text>
<line x1="250.3" y1="267.2" x2="250.3" y2="272.2" stroke="#555" stroke-width="1" />
<text x="250.3" y="285.4" font-size="10.5" text-anchor="middle" >5</text>
<line x1="285.4" y1="267.2" x2="285.4" y2="272.2" stroke="#555" stroke-width="1" />
<text x="285.4" y="285.4" font-size="10.5" text-anchor="middle" >6</text>
<line x1="320.4" y1="267.2" x2="320.4" y2="272.2" stroke="#555" stroke-width="1" />
<text x="320.4" y="285.4" font-size="10.5" text-anchor="middle" >7</text>
<line x1="355.5" y1="267.2" x2="355.5" y2="272.2" stroke="#555" stroke-width="1" />
<text x="355.5" y="285.4" font-size="10.5" text-anchor="middle" >8</text>
<line x1="390.5" y1="267.2" x2="390.5" y2="272.2" stroke="#555" stroke-width="1" />
<text x="390.5" y="285.4" font-size="10.5" text-anchor="middle" >9</text>
<line x1="425.6" y1="267.2" x2="425.6" y2="272.2" stroke="#555" stroke-width="1" />
<text x="425.6" y="285.4" font-size="10.5" text-anchor="middle" >10</text>
<path d="M77.4,259.5 V216.1 M81.9,259.5 V216.1" stroke="#333" stroke-width="1.7" fill="none"/>
<path d="M186.8,259.5 V216.0 M192.2,259.5 V216.0" stroke="#333" stroke-width="1.7" fill="none"/>
<path d="M296.9,259.5 V216.0 M302.1,259.5 V216.0" stroke="#333" stroke-width="1.7" fill="none"/>
<path d="M76.55,219.00 V215.60 Q76.80,214.30 79.65,213.20 Q82.50,214.30 82.75,215.60 V219.00 Z" fill="#3a3a3a"/>
<polygon points="185.95,219.6 185.95,215.3 187.4,213.9 192.0,212.8 193.05,213.6 193.05,219.0" fill="#3a3a3a"/>
<polygon points="296.05,219.0 296.05,214.5 299.0,214.1 300.0,212.4 302.0,211.9 302.95,212.8 302.95,219.0" fill="#3a3a3a"/>
<path d="M75.2,258.4 H77.4 M81.9,258.4 H186.8 M192.2,258.4 H296.9 M302.1,258.4 H407.0" stroke="#222" stroke-width="1.3"/>
<path d="M75.2,259.5 H76.9 V255.7 H82.1 V259.5 H186.7 V255.7 H192.3 V259.5 H296.9 V255.7 H302.1 V259.5 H407.3" fill="none" stroke="#d8a010" stroke-width="2.0" stroke-linejoin="round"/>
<text x="100.0" y="203.7" font-size="12.5" text-anchor="start" textLength="49.3" lengthAdjust="spacingAndGlyphs" >1st pulse</text>
<text x="211.5" y="203.1" font-size="12.5" text-anchor="start" textLength="55.7" lengthAdjust="spacingAndGlyphs" >2nd pulse</text>
<text x="322.0" y="202.9" font-size="12.5" text-anchor="start" textLength="54.2" lengthAdjust="spacingAndGlyphs" >3rd pulse</text>
<text x="100.8" y="243.4" font-size="12.5" text-anchor="start" textLength="65.7" lengthAdjust="spacingAndGlyphs" >196th pulse</text>
<text x="212.0" y="243.3" font-size="12.5" text-anchor="start" textLength="64.9" lengthAdjust="spacingAndGlyphs" >197th pulse</text>
<text x="322.0" y="243.1" font-size="12.5" text-anchor="start" textLength="66.2" lengthAdjust="spacingAndGlyphs" >198th pulse</text>
<line x1="98.2" y1="200.7" x2="86.9" y2="208.7" stroke="#111" stroke-width="1.25" />
<polygon points="83.2,211.3 85.8,206.4 88.7,210.5" fill="#111"/>
<line x1="206.8" y1="201.0" x2="195.5" y2="208.8" stroke="#111" stroke-width="1.25" />
<polygon points="191.8,211.3 194.5,206.4 197.3,210.5" fill="#111"/>
<line x1="317.8" y1="201.0" x2="306.4" y2="208.5" stroke="#111" stroke-width="1.25" />
<polygon points="302.6,211.0 305.4,206.2 308.2,210.3" fill="#111"/>
<line x1="98.2" y1="241.3" x2="86.9" y2="249.1" stroke="#111" stroke-width="1.25" />
<polygon points="83.2,251.6 85.9,246.7 88.7,250.8" fill="#111"/>
<line x1="206.8" y1="241.7" x2="195.6" y2="249.0" stroke="#111" stroke-width="1.25" />
<polygon points="191.8,251.4 194.6,246.6 197.4,250.8" fill="#111"/>
<line x1="317.8" y1="241.2" x2="306.3" y2="248.8" stroke="#111" stroke-width="1.25" />
<polygon points="302.6,251.3 305.4,246.5 308.1,250.6" fill="#111"/>
<line x1="384.4" y1="205.7" x2="384.4" y2="224.7" stroke="#111" stroke-width="1.25" />
<polygon points="384.4,229.2 382.2,224.2 386.6,224.2" fill="#111"/>
<text x="393.8" y="222.0" font-size="12.5" text-anchor="start" textLength="22.8" lengthAdjust="spacingAndGlyphs" >92%</text>
<text x="224.1" y="303.7" font-size="12.5" text-anchor="start" textLength="45.7" lengthAdjust="spacingAndGlyphs" >Time (h)</text>
<text transform="translate(10.6,226.0) rotate(-90)" x="0" y="0" font-size="12.5" text-anchor="middle" textLength="89.0" lengthAdjust="spacingAndGlyphs">Current density</text>
<text transform="translate(24.2,226.9) rotate(-90)" font-size="12.5" text-anchor="middle" textLength="58.8" lengthAdjust="spacingAndGlyphs">(mA cm<tspan dy="-4.5" font-size="9">−2</tspan><tspan dy="4.5">)</tspan></text>
<polygon fill="#e7b135" points="533.8,265.6 533.8,212.0 534.4,212.3 535.0,211.9 535.6,212.1 536.2,212.0 536.8,211.3 537.4,211.1 538.0,212.0 538.6,211.2 539.2,211.1 539.8,211.9 540.4,211.1 541.0,211.5 541.6,211.0 542.2,211.2 542.8,210.6 543.4,211.1 544.0,211.4 544.6,211.0 545.2,211.2 545.8,211.1 546.4,210.4 547.0,211.2 547.6,211.0 548.2,210.6 548.8,210.3 549.4,211.3 550.0,210.8 550.6,211.1 551.2,211.3 551.8,211.1 552.4,211.3 553.0,210.7 553.6,211.3 554.2,210.9 554.8,211.6 555.4,211.6 556.0,210.7 556.6,210.9 557.2,211.0 557.8,212.0 558.4,211.5 559.0,211.8 559.6,211.5 560.2,211.8 560.8,211.7 561.4,211.8 562.0,212.1 562.6,212.2 563.2,212.7 563.8,212.5 564.4,212.9 565.0,213.1 565.6,213.5 566.2,213.4 566.8,213.0 567.4,214.1 568.0,214.5 568.6,214.7 569.2,214.5 569.8,215.0 570.4,214.6 571.0,215.6 571.6,215.6 572.2,215.5 572.8,215.5 573.4,216.7 574.0,217.1 574.6,216.3 575.2,217.4 575.8,217.2 576.4,217.1 577.0,217.6 577.6,218.4 578.2,218.8 578.8,218.0 579.4,218.9 580.0,218.5 580.6,219.5 581.2,219.3 581.8,220.2 582.4,220.6 583.0,220.2 583.6,221.1 584.2,220.5 584.8,220.4 585.4,221.3 586.0,220.8 586.6,221.3 587.2,221.8 587.8,222.3 588.4,222.1 589.0,222.3 589.6,223.6 590.2,223.2 590.8,224.3 591.4,224.5 592.0,224.2 592.6,224.6 593.2,225.0 593.8,225.4 594.4,225.7 595.0,226.0 595.6,226.3 596.2,227.0 596.8,227.0 597.4,227.5 598.0,228.4 598.6,228.5 599.2,229.1 599.8,230.5 600.4,230.6 601.0,231.2 601.6,231.2 602.2,232.2 602.8,233.0 603.4,233.0 604.0,234.3 604.6,234.9 605.2,234.8 605.8,236.1 606.4,236.6 607.0,237.6 607.6,237.9 608.2,239.1 608.8,239.9 609.4,239.8 610.0,240.6 610.6,242.1 611.2,243.2 611.8,243.1 612.4,244.1 613.0,245.0 613.6,245.4 614.2,246.1 614.8,246.7 615.4,247.5 616.0,248.4 616.6,248.8 617.2,249.5 617.8,250.7 618.4,250.5 619.0,251.8 619.6,252.7 620.2,252.9 620.8,253.4 621.4,254.7 622.0,254.6 622.6,255.1 623.2,255.9 623.8,256.8 624.4,256.6 625.0,257.4 625.6,257.9 626.2,259.1 626.8,259.1 627.4,259.8 628.0,259.2 628.6,259.6 629.2,260.2 629.8,260.7 630.4,260.3 631.0,260.3 631.6,260.3 632.2,261.0 632.8,260.8 633.4,261.6 634.0,261.7 634.6,260.9 635.2,261.1 635.8,261.8 636.4,261.7 637.0,261.9 637.6,261.5 638.2,261.3 638.8,261.5 639.4,262.2 640.0,261.6 640.6,261.8 641.2,261.9 641.8,262.0 642.4,262.0 643.0,262.7 643.6,261.9 644.2,261.7 644.8,262.9 645.4,262.9 646.0,263.1 646.6,262.6 647.2,263.2 647.8,263.3 648.4,262.5 649.0,263.2 649.6,265.6"/>
<line x1="535.0" y1="214.1" x2="535.0" y2="265.2" stroke="#f0c86a" stroke-width="0.5" opacity="0.8"/>
<line x1="538.7" y1="213.5" x2="538.7" y2="265.2" stroke="#f0c86a" stroke-width="0.5" opacity="0.8"/>
<line x1="542.0" y1="213.0" x2="542.0" y2="265.2" stroke="#f0c86a" stroke-width="0.5" opacity="0.8"/>
<line x1="545.0" y1="212.9" x2="545.0" y2="265.2" stroke="#f0c86a" stroke-width="0.5" opacity="0.8"/>
<line x1="547.6" y1="212.9" x2="547.6" y2="265.2" stroke="#f0c86a" stroke-width="0.5" opacity="0.8"/>
<line x1="550.3" y1="212.8" x2="550.3" y2="265.2" stroke="#f0c86a" stroke-width="0.5" opacity="0.8"/>
<line x1="552.8" y1="212.8" x2="552.8" y2="265.2" stroke="#f0c86a" stroke-width="0.5" opacity="0.8"/>
<line x1="554.9" y1="213.1" x2="554.9" y2="265.2" stroke="#f0c86a" stroke-width="0.5" opacity="0.8"/>
<line x1="558.1" y1="213.5" x2="558.1" y2="265.2" stroke="#f0c86a" stroke-width="0.5" opacity="0.8"/>
<line x1="560.6" y1="213.8" x2="560.6" y2="265.2" stroke="#f0c86a" stroke-width="0.5" opacity="0.8"/>
<line x1="564.3" y1="214.3" x2="564.3" y2="265.2" stroke="#f0c86a" stroke-width="0.5" opacity="0.8"/>
<line x1="566.4" y1="215.2" x2="566.4" y2="265.2" stroke="#f0c86a" stroke-width="0.5" opacity="0.8"/>
<line x1="570.2" y1="216.9" x2="570.2" y2="265.2" stroke="#f0c86a" stroke-width="0.5" opacity="0.8"/>
<line x1="573.5" y1="218.3" x2="573.5" y2="265.2" stroke="#f0c86a" stroke-width="0.5" opacity="0.8"/>
<line x1="577.4" y1="220.0" x2="577.4" y2="265.2" stroke="#f0c86a" stroke-width="0.5" opacity="0.8"/>
<line x1="581.2" y1="221.5" x2="581.2" y2="265.2" stroke="#f0c86a" stroke-width="0.5" opacity="0.8"/>
<line x1="585.0" y1="223.0" x2="585.0" y2="265.2" stroke="#f0c86a" stroke-width="0.5" opacity="0.8"/>
<line x1="588.1" y1="224.4" x2="588.1" y2="265.2" stroke="#f0c86a" stroke-width="0.5" opacity="0.8"/>
<line x1="590.2" y1="225.4" x2="590.2" y2="265.2" stroke="#f0c86a" stroke-width="0.5" opacity="0.8"/>
<line x1="593.7" y1="227.2" x2="593.7" y2="265.2" stroke="#f0c86a" stroke-width="0.5" opacity="0.8"/>
<line x1="596.0" y1="228.4" x2="596.0" y2="265.2" stroke="#f0c86a" stroke-width="0.5" opacity="0.8"/>
<line x1="598.6" y1="230.8" x2="598.6" y2="265.2" stroke="#f0c86a" stroke-width="0.5" opacity="0.8"/>
<line x1="601.9" y1="234.1" x2="601.9" y2="265.2" stroke="#f0c86a" stroke-width="0.5" opacity="0.8"/>
<line x1="605.0" y1="237.1" x2="605.0" y2="265.2" stroke="#f0c86a" stroke-width="0.5" opacity="0.8"/>
<line x1="607.8" y1="240.4" x2="607.8" y2="265.2" stroke="#f0c86a" stroke-width="0.5" opacity="0.8"/>
<line x1="611.7" y1="245.2" x2="611.7" y2="265.2" stroke="#f0c86a" stroke-width="0.5" opacity="0.8"/>
<line x1="614.9" y1="249.1" x2="614.9" y2="265.2" stroke="#f0c86a" stroke-width="0.5" opacity="0.8"/>
<line x1="617.6" y1="252.1" x2="617.6" y2="265.2" stroke="#f0c86a" stroke-width="0.5" opacity="0.8"/>
<line x1="620.1" y1="255.0" x2="620.1" y2="265.2" stroke="#f0c86a" stroke-width="0.5" opacity="0.8"/>
<line x1="623.8" y1="258.5" x2="623.8" y2="265.2" stroke="#f0c86a" stroke-width="0.5" opacity="0.8"/>
<line x1="626.8" y1="261.2" x2="626.8" y2="265.2" stroke="#f0c86a" stroke-width="0.5" opacity="0.8"/>
<line x1="630.3" y1="262.4" x2="630.3" y2="265.2" stroke="#f0c86a" stroke-width="0.5" opacity="0.8"/>
<line x1="633.0" y1="263.2" x2="633.0" y2="265.2" stroke="#f0c86a" stroke-width="0.5" opacity="0.8"/>
<line x1="635.4" y1="263.4" x2="635.4" y2="265.2" stroke="#f0c86a" stroke-width="0.5" opacity="0.8"/>
<line x1="638.5" y1="263.7" x2="638.5" y2="265.2" stroke="#f0c86a" stroke-width="0.5" opacity="0.8"/>
<line x1="642.1" y1="264.1" x2="642.1" y2="265.2" stroke="#f0c86a" stroke-width="0.5" opacity="0.8"/>
<line x1="644.5" y1="264.4" x2="644.5" y2="265.2" stroke="#f0c86a" stroke-width="0.5" opacity="0.8"/>
<line x1="648.1" y1="264.8" x2="648.1" y2="265.2" stroke="#f0c86a" stroke-width="0.5" opacity="0.8"/>
<line x1="533.8" y1="182.3" x2="533.8" y2="265.6" stroke="#555" stroke-width="1" />
<line x1="533.3" y1="265.6" x2="654.2" y2="265.6" stroke="#555" stroke-width="1" />
<line x1="529.5" y1="191.2" x2="533.8" y2="191.2" stroke="#555" stroke-width="1" />
<text x="523.9" y="194.8" font-size="11.5" text-anchor="end" textLength="21.0" lengthAdjust="spacingAndGlyphs" >400</text>
<line x1="529.5" y1="228.6" x2="533.8" y2="228.6" stroke="#555" stroke-width="1" />
<text x="523.9" y="232.2" font-size="11.5" text-anchor="end" textLength="21.0" lengthAdjust="spacingAndGlyphs" >200</text>
<line x1="529.5" y1="265.7" x2="533.8" y2="265.7" stroke="#555" stroke-width="1" />
<text x="523.9" y="269.3" font-size="11.5" text-anchor="end" >0</text>
<line x1="533.8" y1="265.6" x2="533.8" y2="270.8" stroke="#555" stroke-width="1" />
<text x="533.8" y="284.7" font-size="10.5" text-anchor="middle" >0</text>
<line x1="568.1" y1="265.6" x2="568.1" y2="270.8" stroke="#555" stroke-width="1" />
<text x="568.1" y="284.7" font-size="10.5" text-anchor="middle" textLength="19.5" lengthAdjust="spacingAndGlyphs" >200</text>
<line x1="602.5" y1="265.6" x2="602.5" y2="270.8" stroke="#555" stroke-width="1" />
<text x="602.5" y="284.7" font-size="10.5" text-anchor="middle" textLength="19.5" lengthAdjust="spacingAndGlyphs" >400</text>
<line x1="636.8" y1="265.6" x2="636.8" y2="270.8" stroke="#555" stroke-width="1" />
<text x="636.8" y="284.7" font-size="10.5" text-anchor="middle" textLength="19.5" lengthAdjust="spacingAndGlyphs" >600</text>
<text x="546.2" y="195.2" font-size="10.3" text-anchor="start" textLength="40.3" lengthAdjust="spacingAndGlyphs" >1st pulse</text>
<text x="601.1" y="232.7" font-size="10.5" text-anchor="start" textLength="54.9" lengthAdjust="spacingAndGlyphs" >198th pulse</text>
<line x1="549.2" y1="198.8" x2="538.6" y2="205.5" stroke="#111" stroke-width="1.25" />
<polygon points="534.8,207.9 537.7,203.1 540.4,207.3" fill="#111"/>
<line x1="646.3" y1="237.4" x2="648.8" y2="257.5" stroke="#111" stroke-width="1.25" />
<polygon points="649.4,262.0 646.3,257.4 651.3,256.7" fill="#111"/>
<text x="571.4" y="301.5" font-size="12.5" text-anchor="start" textLength="45.2" lengthAdjust="spacingAndGlyphs" >Time (h)</text>
<text transform="translate(479.4,223.5) rotate(-90)" x="0" y="0" font-size="12.5" text-anchor="middle" textLength="88.4" lengthAdjust="spacingAndGlyphs">Current density</text>
<text transform="translate(494.6,223.3) rotate(-90)" font-size="12.5" text-anchor="middle" textLength="58" lengthAdjust="spacingAndGlyphs">(mA cm<tspan dy="-4.5" font-size="9">−2</tspan><tspan dy="4.5">)</tspan></text>
<defs><radialGradient id="gteal" cx="0.42" cy="0.4" r="0.6"><stop offset="0" stop-color="#ffffff"/><stop offset="0.14" stop-color="#f0f8f8"/><stop offset="0.32" stop-color="#1a8c8c"/><stop offset="0.85" stop-color="#0e7a7b"/><stop offset="1" stop-color="#0a6666"/></radialGradient><radialGradient id="gorg" cx="0.4" cy="0.36" r="0.62"><stop offset="0" stop-color="#ffffff"/><stop offset="0.15" stop-color="#fde6da"/><stop offset="0.34" stop-color="#f4581a"/><stop offset="1" stop-color="#e5490b"/></radialGradient></defs>
<rect x="76.8" y="367.0" width="6.2" height="48.8" fill="#fddccd"/>
<rect x="187.8" y="364.7" width="6.2" height="51.1" fill="#fddccd"/>
<rect x="296.4" y="352.9" width="6.5" height="62.9" fill="#fddccd"/>
<line x1="63.5" y1="335.0" x2="63.5" y2="416.2" stroke="#555" stroke-width="1" />
<line x1="63.0" y1="416.2" x2="423.5" y2="416.2" stroke="#555" stroke-width="1" />
<line x1="59.3" y1="335.4" x2="63.5" y2="335.4" stroke="#555" stroke-width="1" />
<text x="54.5" y="339.2" font-size="11.5" text-anchor="end" textLength="13.6" lengthAdjust="spacingAndGlyphs" >30</text>
<line x1="59.3" y1="360.6" x2="63.5" y2="360.6" stroke="#555" stroke-width="1" />
<text x="54.5" y="364.4" font-size="11.5" text-anchor="end" textLength="13.6" lengthAdjust="spacingAndGlyphs" >20</text>
<line x1="59.3" y1="385.9" x2="63.5" y2="385.9" stroke="#555" stroke-width="1" />
<text x="54.5" y="389.7" font-size="11.5" text-anchor="end" textLength="13.6" lengthAdjust="spacingAndGlyphs" >10</text>
<line x1="59.3" y1="411.2" x2="63.5" y2="411.2" stroke="#555" stroke-width="1" />
<text x="54.5" y="415.0" font-size="11.5" text-anchor="end" >0</text>
<line x1="70.6" y1="416.2" x2="70.6" y2="421.2" stroke="#555" stroke-width="1" />
<text x="70.6" y="434.4" font-size="10.5" text-anchor="middle" >0</text>
<line x1="105.9" y1="416.2" x2="105.9" y2="421.2" stroke="#555" stroke-width="1" />
<text x="105.9" y="434.4" font-size="10.5" text-anchor="middle" >1</text>
<line x1="141.2" y1="416.2" x2="141.2" y2="421.2" stroke="#555" stroke-width="1" />
<text x="141.2" y="434.4" font-size="10.5" text-anchor="middle" >2</text>
<line x1="176.5" y1="416.2" x2="176.5" y2="421.2" stroke="#555" stroke-width="1" />
<text x="176.5" y="434.4" font-size="10.5" text-anchor="middle" >3</text>
<line x1="211.8" y1="416.2" x2="211.8" y2="421.2" stroke="#555" stroke-width="1" />
<text x="211.8" y="434.4" font-size="10.5" text-anchor="middle" >4</text>
<line x1="247.0" y1="416.2" x2="247.0" y2="421.2" stroke="#555" stroke-width="1" />
<text x="247.0" y="434.4" font-size="10.5" text-anchor="middle" >5</text>
<line x1="282.3" y1="416.2" x2="282.3" y2="421.2" stroke="#555" stroke-width="1" />
<text x="282.3" y="434.4" font-size="10.5" text-anchor="middle" >6</text>
<line x1="317.6" y1="416.2" x2="317.6" y2="421.2" stroke="#555" stroke-width="1" />
<text x="317.6" y="434.4" font-size="10.5" text-anchor="middle" >7</text>
<line x1="352.9" y1="416.2" x2="352.9" y2="421.2" stroke="#555" stroke-width="1" />
<text x="352.9" y="434.4" font-size="10.5" text-anchor="middle" >8</text>
<line x1="388.2" y1="416.2" x2="388.2" y2="421.2" stroke="#555" stroke-width="1" />
<text x="388.2" y="434.4" font-size="10.5" text-anchor="middle" >9</text>
<line x1="423.5" y1="416.2" x2="423.5" y2="421.2" stroke="#555" stroke-width="1" />
<text x="423.5" y="434.4" font-size="10.5" text-anchor="middle" >10</text>
<path d="M74.9,404.6 L79.2,394.2 M187.8,391.3 L192.2,378.2 M296.3,379.6 L300.8,368.2 L305,362.6" stroke="#1b76bf" stroke-width="1.6" fill="none"/>
<circle cx="89.4" cy="393.4" r="3.85" fill="url(#gteal)" stroke="#0a6a6a" stroke-width="0.35"/>
<circle cx="94.1" cy="393.3" r="3.85" fill="url(#gteal)" stroke="#0a6a6a" stroke-width="0.35"/>
<circle cx="98.7" cy="393.2" r="3.85" fill="url(#gteal)" stroke="#0a6a6a" stroke-width="0.35"/>
<circle cx="103.4" cy="393.2" r="3.85" fill="url(#gteal)" stroke="#0a6a6a" stroke-width="0.35"/>
<circle cx="108.1" cy="393.1" r="3.85" fill="url(#gteal)" stroke="#0a6a6a" stroke-width="0.35"/>
<circle cx="112.7" cy="393.0" r="3.85" fill="url(#gteal)" stroke="#0a6a6a" stroke-width="0.35"/>
<circle cx="117.4" cy="393.0" r="3.85" fill="url(#gteal)" stroke="#0a6a6a" stroke-width="0.35"/>
<circle cx="122.0" cy="392.9" r="3.85" fill="url(#gteal)" stroke="#0a6a6a" stroke-width="0.35"/>
<circle cx="126.7" cy="392.9" r="3.85" fill="url(#gteal)" stroke="#0a6a6a" stroke-width="0.35"/>
<circle cx="131.4" cy="392.9" r="3.85" fill="url(#gteal)" stroke="#0a6a6a" stroke-width="0.35"/>
<circle cx="136.0" cy="392.9" r="3.85" fill="url(#gteal)" stroke="#0a6a6a" stroke-width="0.35"/>
<circle cx="140.7" cy="392.9" r="3.85" fill="url(#gteal)" stroke="#0a6a6a" stroke-width="0.35"/>
<circle cx="145.4" cy="392.9" r="3.85" fill="url(#gteal)" stroke="#0a6a6a" stroke-width="0.35"/>
<circle cx="150.0" cy="393.0" r="3.85" fill="url(#gteal)" stroke="#0a6a6a" stroke-width="0.35"/>
<circle cx="154.7" cy="393.0" r="3.85" fill="url(#gteal)" stroke="#0a6a6a" stroke-width="0.35"/>
<circle cx="159.3" cy="393.1" r="3.85" fill="url(#gteal)" stroke="#0a6a6a" stroke-width="0.35"/>
<circle cx="164.0" cy="393.2" r="3.85" fill="url(#gteal)" stroke="#0a6a6a" stroke-width="0.35"/>
<circle cx="168.7" cy="393.2" r="3.85" fill="url(#gteal)" stroke="#0a6a6a" stroke-width="0.35"/>
<circle cx="173.3" cy="393.3" r="3.85" fill="url(#gteal)" stroke="#0a6a6a" stroke-width="0.35"/>
<circle cx="178.0" cy="393.4" r="3.85" fill="url(#gteal)" stroke="#0a6a6a" stroke-width="0.35"/>
<circle cx="196.7" cy="378.0" r="3.85" fill="url(#gteal)" stroke="#0a6a6a" stroke-width="0.35"/>
<circle cx="201.5" cy="378.1" r="3.85" fill="url(#gteal)" stroke="#0a6a6a" stroke-width="0.35"/>
<circle cx="206.2" cy="378.3" r="3.85" fill="url(#gteal)" stroke="#0a6a6a" stroke-width="0.35"/>
<circle cx="211.0" cy="378.4" r="3.85" fill="url(#gteal)" stroke="#0a6a6a" stroke-width="0.35"/>
<circle cx="215.8" cy="378.5" r="3.85" fill="url(#gteal)" stroke="#0a6a6a" stroke-width="0.35"/>
<circle cx="220.5" cy="378.7" r="3.85" fill="url(#gteal)" stroke="#0a6a6a" stroke-width="0.35"/>
<circle cx="225.3" cy="378.8" r="3.85" fill="url(#gteal)" stroke="#0a6a6a" stroke-width="0.35"/>
<circle cx="230.1" cy="378.9" r="3.85" fill="url(#gteal)" stroke="#0a6a6a" stroke-width="0.35"/>
<circle cx="234.8" cy="379.0" r="3.85" fill="url(#gteal)" stroke="#0a6a6a" stroke-width="0.35"/>
<circle cx="239.6" cy="379.0" r="3.85" fill="url(#gteal)" stroke="#0a6a6a" stroke-width="0.35"/>
<circle cx="244.3" cy="379.1" r="3.85" fill="url(#gteal)" stroke="#0a6a6a" stroke-width="0.35"/>
<circle cx="249.1" cy="379.2" r="3.85" fill="url(#gteal)" stroke="#0a6a6a" stroke-width="0.35"/>
<circle cx="253.9" cy="379.2" r="3.85" fill="url(#gteal)" stroke="#0a6a6a" stroke-width="0.35"/>
<circle cx="258.6" cy="379.2" r="3.85" fill="url(#gteal)" stroke="#0a6a6a" stroke-width="0.35"/>
<circle cx="263.4" cy="379.2" r="3.85" fill="url(#gteal)" stroke="#0a6a6a" stroke-width="0.35"/>
<circle cx="268.2" cy="379.3" r="3.85" fill="url(#gteal)" stroke="#0a6a6a" stroke-width="0.35"/>
<circle cx="272.9" cy="379.3" r="3.85" fill="url(#gteal)" stroke="#0a6a6a" stroke-width="0.35"/>
<circle cx="277.7" cy="379.2" r="3.85" fill="url(#gteal)" stroke="#0a6a6a" stroke-width="0.35"/>
<circle cx="282.5" cy="379.2" r="3.85" fill="url(#gteal)" stroke="#0a6a6a" stroke-width="0.35"/>
<circle cx="287.2" cy="379.2" r="3.85" fill="url(#gteal)" stroke="#0a6a6a" stroke-width="0.35"/>
<circle cx="292.0" cy="379.2" r="3.85" fill="url(#gteal)" stroke="#0a6a6a" stroke-width="0.35"/>
<circle cx="309.8" cy="362.8" r="3.85" fill="url(#gteal)" stroke="#0a6a6a" stroke-width="0.35"/>
<circle cx="314.6" cy="363.1" r="3.85" fill="url(#gteal)" stroke="#0a6a6a" stroke-width="0.35"/>
<circle cx="319.3" cy="363.3" r="3.85" fill="url(#gteal)" stroke="#0a6a6a" stroke-width="0.35"/>
<circle cx="324.1" cy="363.5" r="3.85" fill="url(#gteal)" stroke="#0a6a6a" stroke-width="0.35"/>
<circle cx="328.8" cy="363.7" r="3.85" fill="url(#gteal)" stroke="#0a6a6a" stroke-width="0.35"/>
<circle cx="333.6" cy="363.8" r="3.85" fill="url(#gteal)" stroke="#0a6a6a" stroke-width="0.35"/>
<circle cx="338.3" cy="363.9" r="3.85" fill="url(#gteal)" stroke="#0a6a6a" stroke-width="0.35"/>
<circle cx="343.1" cy="364.0" r="3.85" fill="url(#gteal)" stroke="#0a6a6a" stroke-width="0.35"/>
<circle cx="347.8" cy="364.1" r="3.85" fill="url(#gteal)" stroke="#0a6a6a" stroke-width="0.35"/>
<circle cx="352.6" cy="364.1" r="3.85" fill="url(#gteal)" stroke="#0a6a6a" stroke-width="0.35"/>
<circle cx="357.4" cy="364.1" r="3.85" fill="url(#gteal)" stroke="#0a6a6a" stroke-width="0.35"/>
<circle cx="362.1" cy="364.0" r="3.85" fill="url(#gteal)" stroke="#0a6a6a" stroke-width="0.35"/>
<circle cx="366.9" cy="363.9" r="3.85" fill="url(#gteal)" stroke="#0a6a6a" stroke-width="0.35"/>
<circle cx="371.6" cy="363.8" r="3.85" fill="url(#gteal)" stroke="#0a6a6a" stroke-width="0.35"/>
<circle cx="376.4" cy="363.6" r="3.85" fill="url(#gteal)" stroke="#0a6a6a" stroke-width="0.35"/>
<circle cx="381.1" cy="363.4" r="3.85" fill="url(#gteal)" stroke="#0a6a6a" stroke-width="0.35"/>
<circle cx="385.9" cy="363.2" r="3.85" fill="url(#gteal)" stroke="#0a6a6a" stroke-width="0.35"/>
<circle cx="390.6" cy="363.0" r="3.85" fill="url(#gteal)" stroke="#0a6a6a" stroke-width="0.35"/>
<circle cx="395.4" cy="362.8" r="3.85" fill="url(#gteal)" stroke="#0a6a6a" stroke-width="0.35"/>
<circle cx="83.8" cy="393.2" r="4.4" fill="url(#gorg)"/>
<circle cx="79.2" cy="394.2" r="4.4" fill="url(#gorg)"/>
<circle cx="74.9" cy="404.6" r="4.4" fill="url(#gorg)"/>
<circle cx="73.9" cy="411.3" r="4.4" fill="url(#gorg)"/>
<circle cx="183.0" cy="393.4" r="4.4" fill="url(#gorg)"/>
<circle cx="188.2" cy="391.1" r="4.4" fill="url(#gorg)"/>
<circle cx="192.1" cy="378.2" r="4.4" fill="url(#gorg)"/>
<circle cx="296.3" cy="379.6" r="4.4" fill="url(#gorg)"/>
<circle cx="300.8" cy="368.2" r="4.4" fill="url(#gorg)"/>
<circle cx="305.0" cy="362.6" r="4.4" fill="url(#gorg)"/>
<text x="95.4" y="351.1" font-size="12.5">MnO<tspan font-size="9" dy="3.2">4</tspan><tspan font-size="9" dy="-8.2" dx="0.2">−</tspan></text>
<text x="95.4" y="365.9" font-size="12.5" text-anchor="start" textLength="62.0" lengthAdjust="spacingAndGlyphs" >generation</text>
<line x1="93.7" y1="350.0" x2="85.7" y2="360.8" stroke="#111" stroke-width="1.25" />
<polygon points="83.0,364.4 84.0,358.9 88.0,361.9" fill="#111"/>
<text x="211.9" y="348.2" font-size="12.5">MnO<tspan font-size="9" dy="3.2">4</tspan><tspan font-size="9" dy="-8.2" dx="0.2">−</tspan></text>
<text x="211.9" y="363.0" font-size="12.5" text-anchor="start" textLength="62.0" lengthAdjust="spacingAndGlyphs" >generation</text>
<line x1="204.6" y1="348.2" x2="196.3" y2="359.3" stroke="#111" stroke-width="1.25" />
<polygon points="193.6,362.9 194.6,357.4 198.6,360.4" fill="#111"/>
<text x="324.8" y="339.3" font-size="12.5">MnO<tspan font-size="9" dy="3.2">4</tspan><tspan font-size="9" dy="-8.2" dx="0.2">−</tspan></text>
<text x="324.8" y="353.5" font-size="12.5" text-anchor="start" textLength="62.0" lengthAdjust="spacingAndGlyphs" >generation</text>
<line x1="315.7" y1="338.0" x2="307.4" y2="348.9" stroke="#111" stroke-width="1.25" />
<polygon points="304.7,352.5 305.7,347.0 309.7,350.0" fill="#111"/>
<text x="221.6" y="453.7" font-size="12.5" text-anchor="start" textLength="45.6" lengthAdjust="spacingAndGlyphs" >Time (h)</text>
<text transform="translate(27.4,375.2) rotate(-90)" font-size="12.5" text-anchor="middle">[MnO<tspan font-size="9" dy="3.2">4</tspan><tspan font-size="9" dy="-8.2" dx="0.2">−</tspan><tspan dy="5">] (ppm)</tspan></text>
<circle cx="534.4" cy="343.0" r="3.2" fill="#8f8f8f"/>
<circle cx="524.6" cy="342.5" r="3.2" fill="#8f8f8f"/>
<circle cx="535.1" cy="341.0" r="3.2" fill="#8f8f8f"/>
<circle cx="527.8" cy="341.6" r="3.2" fill="#8f8f8f"/>
<circle cx="531.0" cy="342.0" r="3.2" fill="#8f8f8f"/>
<circle cx="530.3" cy="342.9" r="3.2" fill="#8f8f8f"/>
<circle cx="524.5" cy="341.0" r="3.2" fill="#8f8f8f"/>
<circle cx="526.1" cy="341.2" r="3.2" fill="#8f8f8f"/>
<circle cx="525.3" cy="343.4" r="3.2" fill="#8f8f8f"/>
<circle cx="535.0" cy="341.1" r="3.2" fill="#8f8f8f"/>
<circle cx="530.7" cy="341.7" r="3.2" fill="#8f8f8f"/>
<circle cx="528.4" cy="341.8" r="3.2" fill="#8f8f8f"/>
<circle cx="532.5" cy="342.4" r="3.2" fill="#8f8f8f"/>
<circle cx="528.9" cy="341.4" r="3.2" fill="#8f8f8f"/>
<circle cx="528.5" cy="341.2" r="3.2" fill="#8f8f8f"/>
<circle cx="531.3" cy="342.8" r="3.2" fill="#8f8f8f"/>
<circle cx="529.2" cy="341.1" r="3.2" fill="#8f8f8f"/>
<circle cx="526.7" cy="341.9" r="3.2" fill="#8f8f8f"/>
<circle cx="531.9" cy="342.9" r="3.2" fill="#8f8f8f"/>
<circle cx="529.2" cy="343.0" r="3.2" fill="#8f8f8f"/>
<circle cx="532.2" cy="342.0" r="3.2" fill="#8f8f8f"/>
<circle cx="529.1" cy="342.2" r="3.2" fill="#8f8f8f"/>
<circle cx="533.1" cy="342.0" r="3.2" fill="#8f8f8f"/>
<circle cx="533.0" cy="342.1" r="3.2" fill="#8f8f8f"/>
<circle cx="527.5" cy="342.3" r="3.2" fill="#8f8f8f"/>
<circle cx="533.1" cy="341.1" r="3.2" fill="#8f8f8f"/>
<circle cx="529.7" cy="342.0" r="3.2" fill="#8f8f8f"/>
<circle cx="535.3" cy="343.3" r="3.2" fill="#8f8f8f"/>
<circle cx="529.1" cy="343.2" r="3.2" fill="#8f8f8f"/>
<circle cx="534.2" cy="341.6" r="3.2" fill="#8f8f8f"/>
<path d="M542.7,350 V367 M548.8,366 V379" stroke="#cfcfcf" stroke-width="0.7"/>
<circle cx="542.5" cy="370.0" r="3.1" fill="#fff" stroke="#9a9a9a" stroke-width="0.7"/>
<circle cx="543.0" cy="371.9" r="3.1" fill="#fff" stroke="#9a9a9a" stroke-width="0.7"/>
<circle cx="544.6" cy="373.9" r="3.1" fill="#fff" stroke="#9a9a9a" stroke-width="0.7"/>
<circle cx="545.3" cy="375.8" r="3.1" fill="#fff" stroke="#9a9a9a" stroke-width="0.7"/>
<circle cx="546.4" cy="377.8" r="3.1" fill="#fff" stroke="#9a9a9a" stroke-width="0.7"/>
<circle cx="547.2" cy="379.7" r="3.1" fill="#fff" stroke="#9a9a9a" stroke-width="0.7"/>
<circle cx="548.0" cy="381.7" r="3.1" fill="#fff" stroke="#9a9a9a" stroke-width="0.7"/>
<circle cx="549.0" cy="383.6" r="3.1" fill="#fff" stroke="#9a9a9a" stroke-width="0.7"/>
<circle cx="549.7" cy="385.6" r="3.1" fill="#fff" stroke="#9a9a9a" stroke-width="0.7"/>
<circle cx="550.1" cy="387.5" r="3.1" fill="#fff" stroke="#9a9a9a" stroke-width="0.7"/>
<circle cx="602.5" cy="354.9" r="3.2" fill="#8f8f8f" stroke="#a8a8a8" stroke-width="0.5"/>
<circle cx="562.7" cy="357.5" r="3.2" fill="#8f8f8f" stroke="#a8a8a8" stroke-width="0.5"/>
<circle cx="553.8" cy="356.4" r="3.2" fill="#8f8f8f" stroke="#a8a8a8" stroke-width="0.5"/>
<circle cx="558.7" cy="358.0" r="3.2" fill="#8f8f8f" stroke="#a8a8a8" stroke-width="0.5"/>
<circle cx="565.9" cy="355.6" r="3.2" fill="#8f8f8f" stroke="#a8a8a8" stroke-width="0.5"/>
<circle cx="625.3" cy="355.9" r="3.2" fill="#8f8f8f" stroke="#a8a8a8" stroke-width="0.5"/>
<circle cx="625.5" cy="357.2" r="3.2" fill="#8f8f8f" stroke="#a8a8a8" stroke-width="0.5"/>
<circle cx="624.8" cy="357.9" r="3.2" fill="#8f8f8f" stroke="#a8a8a8" stroke-width="0.5"/>
<circle cx="601.7" cy="356.8" r="3.2" fill="#8f8f8f" stroke="#a8a8a8" stroke-width="0.5"/>
<circle cx="553.1" cy="358.0" r="3.2" fill="#8f8f8f" stroke="#a8a8a8" stroke-width="0.5"/>
<circle cx="595.7" cy="356.5" r="3.2" fill="#8f8f8f" stroke="#a8a8a8" stroke-width="0.5"/>
<circle cx="559.4" cy="357.6" r="3.2" fill="#8f8f8f" stroke="#a8a8a8" stroke-width="0.5"/>
<circle cx="633.6" cy="356.2" r="3.2" fill="#8f8f8f" stroke="#a8a8a8" stroke-width="0.5"/>
<circle cx="578.9" cy="356.4" r="3.2" fill="#8f8f8f" stroke="#a8a8a8" stroke-width="0.5"/>
<circle cx="624.1" cy="356.1" r="3.2" fill="#8f8f8f" stroke="#a8a8a8" stroke-width="0.5"/>
<circle cx="565.9" cy="356.1" r="3.2" fill="#8f8f8f" stroke="#a8a8a8" stroke-width="0.5"/>
<circle cx="605.1" cy="356.7" r="3.2" fill="#8f8f8f" stroke="#a8a8a8" stroke-width="0.5"/>
<circle cx="585.1" cy="355.8" r="3.2" fill="#8f8f8f" stroke="#a8a8a8" stroke-width="0.5"/>
<circle cx="585.4" cy="355.7" r="3.2" fill="#8f8f8f" stroke="#a8a8a8" stroke-width="0.5"/>
<circle cx="587.3" cy="355.0" r="3.2" fill="#8f8f8f" stroke="#a8a8a8" stroke-width="0.5"/>
<circle cx="594.7" cy="357.1" r="3.2" fill="#8f8f8f" stroke="#a8a8a8" stroke-width="0.5"/>
<circle cx="586.8" cy="356.6" r="3.2" fill="#8f8f8f" stroke="#a8a8a8" stroke-width="0.5"/>
<circle cx="564.2" cy="357.3" r="3.2" fill="#8f8f8f" stroke="#a8a8a8" stroke-width="0.5"/>
<circle cx="617.6" cy="356.9" r="3.2" fill="#8f8f8f" stroke="#a8a8a8" stroke-width="0.5"/>
<circle cx="596.2" cy="356.0" r="3.2" fill="#8f8f8f" stroke="#a8a8a8" stroke-width="0.5"/>
<circle cx="607.5" cy="357.1" r="3.2" fill="#8f8f8f" stroke="#a8a8a8" stroke-width="0.5"/>
<circle cx="563.2" cy="355.9" r="3.2" fill="#8f8f8f" stroke="#a8a8a8" stroke-width="0.5"/>
<circle cx="616.9" cy="357.5" r="3.2" fill="#8f8f8f" stroke="#a8a8a8" stroke-width="0.5"/>
<circle cx="596.2" cy="355.9" r="3.2" fill="#8f8f8f" stroke="#a8a8a8" stroke-width="0.5"/>
<circle cx="614.3" cy="355.6" r="3.2" fill="#8f8f8f" stroke="#a8a8a8" stroke-width="0.5"/>
<circle cx="573.8" cy="355.7" r="3.2" fill="#8f8f8f" stroke="#a8a8a8" stroke-width="0.5"/>
<circle cx="602.3" cy="355.6" r="3.2" fill="#8f8f8f" stroke="#a8a8a8" stroke-width="0.5"/>
<circle cx="570.6" cy="357.0" r="3.2" fill="#8f8f8f" stroke="#a8a8a8" stroke-width="0.5"/>
<circle cx="635.3" cy="356.9" r="3.2" fill="#8f8f8f" stroke="#a8a8a8" stroke-width="0.5"/>
<circle cx="613.1" cy="356.1" r="3.2" fill="#8f8f8f" stroke="#a8a8a8" stroke-width="0.5"/>
<circle cx="626.4" cy="357.1" r="3.2" fill="#8f8f8f" stroke="#a8a8a8" stroke-width="0.5"/>
<circle cx="573.8" cy="355.7" r="3.2" fill="#8f8f8f" stroke="#a8a8a8" stroke-width="0.5"/>
<circle cx="551.9" cy="357.4" r="3.2" fill="#8f8f8f" stroke="#a8a8a8" stroke-width="0.5"/>
<circle cx="584.1" cy="355.3" r="3.2" fill="#8f8f8f" stroke="#a8a8a8" stroke-width="0.5"/>
<circle cx="582.1" cy="355.7" r="3.2" fill="#8f8f8f" stroke="#a8a8a8" stroke-width="0.5"/>
<circle cx="619.2" cy="355.7" r="3.2" fill="#8f8f8f" stroke="#a8a8a8" stroke-width="0.5"/>
<circle cx="638.7" cy="357.5" r="3.2" fill="#8f8f8f" stroke="#a8a8a8" stroke-width="0.5"/>
<circle cx="603.5" cy="356.0" r="3.2" fill="#8f8f8f" stroke="#a8a8a8" stroke-width="0.5"/>
<circle cx="624.7" cy="357.6" r="3.2" fill="#8f8f8f" stroke="#a8a8a8" stroke-width="0.5"/>
<circle cx="599.8" cy="356.0" r="3.2" fill="#8f8f8f" stroke="#a8a8a8" stroke-width="0.5"/>
<circle cx="614.4" cy="357.2" r="3.2" fill="#8f8f8f" stroke="#a8a8a8" stroke-width="0.5"/>
<circle cx="585.7" cy="356.6" r="3.2" fill="#8f8f8f" stroke="#a8a8a8" stroke-width="0.5"/>
<circle cx="635.9" cy="357.3" r="3.2" fill="#8f8f8f" stroke="#a8a8a8" stroke-width="0.5"/>
<circle cx="570.4" cy="355.9" r="3.2" fill="#8f8f8f" stroke="#a8a8a8" stroke-width="0.5"/>
<circle cx="614.2" cy="356.8" r="3.2" fill="#8f8f8f" stroke="#a8a8a8" stroke-width="0.5"/>
<circle cx="635.8" cy="358.2" r="3.2" fill="#8f8f8f" stroke="#a8a8a8" stroke-width="0.5"/>
<circle cx="571.5" cy="355.7" r="3.2" fill="#8f8f8f" stroke="#a8a8a8" stroke-width="0.5"/>
<circle cx="573.0" cy="355.7" r="3.2" fill="#8f8f8f" stroke="#a8a8a8" stroke-width="0.5"/>
<circle cx="613.0" cy="357.2" r="3.2" fill="#8f8f8f" stroke="#a8a8a8" stroke-width="0.5"/>
<circle cx="630.5" cy="356.5" r="3.2" fill="#8f8f8f" stroke="#a8a8a8" stroke-width="0.5"/>
<circle cx="627.4" cy="356.5" r="3.2" fill="#8f8f8f" stroke="#a8a8a8" stroke-width="0.5"/>
<circle cx="587.8" cy="356.6" r="3.2" fill="#8f8f8f" stroke="#a8a8a8" stroke-width="0.5"/>
<circle cx="557.5" cy="356.2" r="3.2" fill="#8f8f8f" stroke="#a8a8a8" stroke-width="0.5"/>
<circle cx="624.6" cy="356.3" r="3.2" fill="#8f8f8f" stroke="#a8a8a8" stroke-width="0.5"/>
<circle cx="581.8" cy="356.3" r="3.2" fill="#8f8f8f" stroke="#a8a8a8" stroke-width="0.5"/>
<circle cx="610.4" cy="355.1" r="3.2" fill="#8f8f8f" stroke="#a8a8a8" stroke-width="0.5"/>
<circle cx="579.8" cy="356.0" r="3.2" fill="#8f8f8f" stroke="#a8a8a8" stroke-width="0.5"/>
<circle cx="593.4" cy="355.3" r="3.2" fill="#8f8f8f" stroke="#a8a8a8" stroke-width="0.5"/>
<circle cx="602.3" cy="357.2" r="3.2" fill="#8f8f8f" stroke="#a8a8a8" stroke-width="0.5"/>
<circle cx="584.9" cy="356.2" r="3.2" fill="#8f8f8f" stroke="#a8a8a8" stroke-width="0.5"/>
<circle cx="560.5" cy="356.4" r="3.2" fill="#8f8f8f" stroke="#a8a8a8" stroke-width="0.5"/>
<circle cx="609.5" cy="355.3" r="3.2" fill="#8f8f8f" stroke="#a8a8a8" stroke-width="0.5"/>
<circle cx="629.4" cy="358.0" r="3.2" fill="#8f8f8f" stroke="#a8a8a8" stroke-width="0.5"/>
<circle cx="558.5" cy="358.1" r="3.2" fill="#8f8f8f" stroke="#a8a8a8" stroke-width="0.5"/>
<circle cx="583.4" cy="356.8" r="3.2" fill="#8f8f8f" stroke="#a8a8a8" stroke-width="0.5"/>
<circle cx="617.7" cy="356.0" r="3.2" fill="#8f8f8f" stroke="#a8a8a8" stroke-width="0.5"/>
<circle cx="610.4" cy="356.6" r="3.2" fill="#8f8f8f" stroke="#a8a8a8" stroke-width="0.5"/>
<circle cx="622.1" cy="356.1" r="3.2" fill="#8f8f8f" stroke="#a8a8a8" stroke-width="0.5"/>
<circle cx="617.5" cy="357.6" r="3.2" fill="#8f8f8f" stroke="#a8a8a8" stroke-width="0.5"/>
<circle cx="610.2" cy="356.3" r="3.2" fill="#8f8f8f" stroke="#a8a8a8" stroke-width="0.5"/>
<circle cx="560.0" cy="357.0" r="3.2" fill="#8f8f8f" stroke="#a8a8a8" stroke-width="0.5"/>
<circle cx="581.4" cy="356.7" r="3.2" fill="#8f8f8f" stroke="#a8a8a8" stroke-width="0.5"/>
<circle cx="610.7" cy="356.4" r="3.2" fill="#8f8f8f" stroke="#a8a8a8" stroke-width="0.5"/>
<circle cx="566.1" cy="357.1" r="3.2" fill="#8f8f8f" stroke="#a8a8a8" stroke-width="0.5"/>
<circle cx="606.4" cy="355.4" r="3.2" fill="#8f8f8f" stroke="#a8a8a8" stroke-width="0.5"/>
<circle cx="629.6" cy="357.4" r="3.2" fill="#8f8f8f" stroke="#a8a8a8" stroke-width="0.5"/>
<circle cx="560.8" cy="358.0" r="3.2" fill="#8f8f8f" stroke="#a8a8a8" stroke-width="0.5"/>
<circle cx="562.5" cy="356.5" r="3.2" fill="#8f8f8f" stroke="#a8a8a8" stroke-width="0.5"/>
<circle cx="614.4" cy="356.6" r="3.2" fill="#8f8f8f" stroke="#a8a8a8" stroke-width="0.5"/>
<circle cx="599.6" cy="356.4" r="3.2" fill="#8f8f8f" stroke="#a8a8a8" stroke-width="0.5"/>
<circle cx="590.9" cy="355.6" r="3.2" fill="#8f8f8f" stroke="#a8a8a8" stroke-width="0.5"/>
<circle cx="565.6" cy="355.7" r="3.2" fill="#8f8f8f" stroke="#a8a8a8" stroke-width="0.5"/>
<circle cx="614.0" cy="357.0" r="3.2" fill="#8f8f8f" stroke="#a8a8a8" stroke-width="0.5"/>
<circle cx="598.5" cy="356.6" r="3.2" fill="#8f8f8f" stroke="#a8a8a8" stroke-width="0.5"/>
<circle cx="582.0" cy="355.6" r="3.2" fill="#8f8f8f" stroke="#a8a8a8" stroke-width="0.5"/>
<circle cx="584.2" cy="357.0" r="3.2" fill="#8f8f8f" stroke="#a8a8a8" stroke-width="0.5"/>
<circle cx="553.6" cy="357.4" r="3.2" fill="#8f8f8f" stroke="#a8a8a8" stroke-width="0.5"/>
<circle cx="572.0" cy="357.1" r="3.2" fill="#8f8f8f" stroke="#a8a8a8" stroke-width="0.5"/>
<circle cx="581.6" cy="355.8" r="3.2" fill="#8f8f8f" stroke="#a8a8a8" stroke-width="0.5"/>
<circle cx="586.0" cy="356.2" r="3.2" fill="#8f8f8f" stroke="#a8a8a8" stroke-width="0.5"/>
<circle cx="619.0" cy="356.2" r="3.2" fill="#8f8f8f" stroke="#a8a8a8" stroke-width="0.5"/>
<circle cx="625.8" cy="355.9" r="3.2" fill="#8f8f8f" stroke="#a8a8a8" stroke-width="0.5"/>
<circle cx="574.1" cy="355.4" r="3.2" fill="#8f8f8f" stroke="#a8a8a8" stroke-width="0.5"/>
<circle cx="559.9" cy="357.7" r="3.2" fill="#8f8f8f" stroke="#a8a8a8" stroke-width="0.5"/>
<circle cx="615.0" cy="355.6" r="3.2" fill="#8f8f8f" stroke="#a8a8a8" stroke-width="0.5"/>
<circle cx="566.8" cy="356.5" r="3.2" fill="#8f8f8f" stroke="#a8a8a8" stroke-width="0.5"/>
<circle cx="616.5" cy="357.2" r="3.2" fill="#8f8f8f" stroke="#a8a8a8" stroke-width="0.5"/>
<circle cx="617.0" cy="356.7" r="3.2" fill="#8f8f8f" stroke="#a8a8a8" stroke-width="0.5"/>
<circle cx="562.9" cy="356.6" r="3.2" fill="#8f8f8f" stroke="#a8a8a8" stroke-width="0.5"/>
<circle cx="567.2" cy="356.7" r="3.2" fill="#8f8f8f" stroke="#a8a8a8" stroke-width="0.5"/>
<circle cx="600.8" cy="355.3" r="3.2" fill="#8f8f8f" stroke="#a8a8a8" stroke-width="0.5"/>
<circle cx="572.2" cy="357.1" r="3.2" fill="#8f8f8f" stroke="#a8a8a8" stroke-width="0.5"/>
<circle cx="552.5" cy="358.1" r="3.2" fill="#8f8f8f" stroke="#a8a8a8" stroke-width="0.5"/>
<circle cx="629.7" cy="358.1" r="3.2" fill="#8f8f8f" stroke="#a8a8a8" stroke-width="0.5"/>
<circle cx="584.2" cy="356.2" r="3.2" fill="#8f8f8f" stroke="#a8a8a8" stroke-width="0.5"/>
<circle cx="602.1" cy="356.4" r="3.2" fill="#8f8f8f" stroke="#a8a8a8" stroke-width="0.5"/>
<circle cx="637.4" cy="357.9" r="3.2" fill="#8f8f8f" stroke="#a8a8a8" stroke-width="0.5"/>
<circle cx="576.7" cy="357.2" r="3.2" fill="#8f8f8f" stroke="#a8a8a8" stroke-width="0.5"/>
<circle cx="593.2" cy="356.2" r="3.2" fill="#8f8f8f" stroke="#a8a8a8" stroke-width="0.5"/>
<circle cx="615.0" cy="355.2" r="3.2" fill="#8f8f8f" stroke="#a8a8a8" stroke-width="0.5"/>
<circle cx="618.9" cy="356.9" r="3.2" fill="#8f8f8f" stroke="#a8a8a8" stroke-width="0.5"/>
<circle cx="593.9" cy="356.1" r="3.2" fill="#8f8f8f" stroke="#a8a8a8" stroke-width="0.5"/>
<circle cx="591.1" cy="355.3" r="3.2" fill="#8f8f8f" stroke="#a8a8a8" stroke-width="0.5"/>
<circle cx="597.3" cy="354.9" r="3.2" fill="#8f8f8f" stroke="#a8a8a8" stroke-width="0.5"/>
<circle cx="594.7" cy="356.4" r="3.2" fill="#8f8f8f" stroke="#a8a8a8" stroke-width="0.5"/>
<circle cx="589.6" cy="356.2" r="3.2" fill="#8f8f8f" stroke="#a8a8a8" stroke-width="0.5"/>
<circle cx="635.8" cy="358.3" r="3.2" fill="#8f8f8f" stroke="#a8a8a8" stroke-width="0.5"/>
<circle cx="562.0" cy="357.6" r="3.2" fill="#8f8f8f" stroke="#a8a8a8" stroke-width="0.5"/>
<circle cx="605.7" cy="355.0" r="3.2" fill="#8f8f8f" stroke="#a8a8a8" stroke-width="0.5"/>
<circle cx="582.1" cy="355.5" r="3.2" fill="#8f8f8f" stroke="#a8a8a8" stroke-width="0.5"/>
<circle cx="556.8" cy="357.3" r="3.2" fill="#8f8f8f" stroke="#a8a8a8" stroke-width="0.5"/>
<circle cx="633.2" cy="356.8" r="3.2" fill="#8f8f8f" stroke="#a8a8a8" stroke-width="0.5"/>
<circle cx="627.9" cy="357.4" r="3.2" fill="#8f8f8f" stroke="#a8a8a8" stroke-width="0.5"/>
<circle cx="561.9" cy="357.8" r="3.2" fill="#8f8f8f" stroke="#a8a8a8" stroke-width="0.5"/>
<circle cx="603.7" cy="357.1" r="3.2" fill="#8f8f8f" stroke="#a8a8a8" stroke-width="0.5"/>
<circle cx="614.0" cy="356.9" r="3.2" fill="#8f8f8f" stroke="#a8a8a8" stroke-width="0.5"/>
<circle cx="580.6" cy="356.9" r="3.2" fill="#8f8f8f" stroke="#a8a8a8" stroke-width="0.5"/>
<circle cx="633.4" cy="358.1" r="3.2" fill="#8f8f8f" stroke="#a8a8a8" stroke-width="0.5"/>
<circle cx="589.0" cy="356.6" r="3.2" fill="#8f8f8f" stroke="#a8a8a8" stroke-width="0.5"/>
<circle cx="593.3" cy="355.1" r="3.2" fill="#8f8f8f" stroke="#a8a8a8" stroke-width="0.5"/>
<circle cx="553.6" cy="356.3" r="3.2" fill="#8f8f8f" stroke="#a8a8a8" stroke-width="0.5"/>
<circle cx="567.8" cy="355.8" r="3.2" fill="#8f8f8f" stroke="#a8a8a8" stroke-width="0.5"/>
<circle cx="594.4" cy="356.5" r="3.2" fill="#8f8f8f" stroke="#a8a8a8" stroke-width="0.5"/>
<circle cx="598.0" cy="355.8" r="3.2" fill="#8f8f8f" stroke="#a8a8a8" stroke-width="0.5"/>
<circle cx="608.0" cy="355.7" r="3.2" fill="#8f8f8f" stroke="#a8a8a8" stroke-width="0.5"/>
<circle cx="591.5" cy="356.6" r="3.2" fill="#8f8f8f" stroke="#a8a8a8" stroke-width="0.5"/>
<circle cx="585.8" cy="355.3" r="3.2" fill="#8f8f8f" stroke="#a8a8a8" stroke-width="0.5"/>
<circle cx="630.5" cy="357.6" r="3.2" fill="#8f8f8f" stroke="#a8a8a8" stroke-width="0.5"/>
<circle cx="582.7" cy="355.8" r="3.2" fill="#8f8f8f" stroke="#a8a8a8" stroke-width="0.5"/>
<circle cx="597.3" cy="356.2" r="3.2" fill="#8f8f8f" stroke="#a8a8a8" stroke-width="0.5"/>
<circle cx="569.9" cy="355.4" r="3.2" fill="#8f8f8f" stroke="#a8a8a8" stroke-width="0.5"/>
<circle cx="568.5" cy="357.3" r="3.2" fill="#8f8f8f" stroke="#a8a8a8" stroke-width="0.5"/>
<circle cx="562.7" cy="356.8" r="3.2" fill="#8f8f8f" stroke="#a8a8a8" stroke-width="0.5"/>
<circle cx="567.3" cy="356.0" r="3.2" fill="#8f8f8f" stroke="#a8a8a8" stroke-width="0.5"/>
<circle cx="565.1" cy="356.5" r="3.2" fill="#8f8f8f" stroke="#a8a8a8" stroke-width="0.5"/>
<circle cx="564.9" cy="355.6" r="3.2" fill="#8f8f8f" stroke="#a8a8a8" stroke-width="0.5"/>
<circle cx="559.7" cy="356.2" r="3.2" fill="#8f8f8f" stroke="#a8a8a8" stroke-width="0.5"/>
<circle cx="593.8" cy="354.9" r="3.2" fill="#8f8f8f" stroke="#a8a8a8" stroke-width="0.5"/>
<circle cx="551.8" cy="357.3" r="3.2" fill="#8f8f8f" stroke="#a8a8a8" stroke-width="0.5"/>
<circle cx="586.4" cy="356.6" r="3.2" fill="#8f8f8f" stroke="#a8a8a8" stroke-width="0.5"/>
<circle cx="554.4" cy="357.1" r="3.2" fill="#8f8f8f" stroke="#a8a8a8" stroke-width="0.5"/>
<circle cx="585.4" cy="354.9" r="3.2" fill="#8f8f8f" stroke="#a8a8a8" stroke-width="0.5"/>
<circle cx="636.4" cy="356.7" r="3.2" fill="#8f8f8f" stroke="#a8a8a8" stroke-width="0.5"/>
<circle cx="558.3" cy="357.0" r="3.2" fill="#8f8f8f" stroke="#a8a8a8" stroke-width="0.5"/>
<circle cx="564.6" cy="357.1" r="3.2" fill="#8f8f8f" stroke="#a8a8a8" stroke-width="0.5"/>
<circle cx="542.7" cy="338.3" r="3.2" fill="#fff" stroke="#9a9a9a" stroke-width="0.7"/>
<circle cx="542.7" cy="341.6" r="3.2" fill="#fff" stroke="#9a9a9a" stroke-width="0.7"/>
<circle cx="542.9" cy="347.2" r="3.2" fill="#fff" stroke="#9a9a9a" stroke-width="0.7"/>
<circle cx="548.8" cy="363.3" r="3.2" fill="#fff" stroke="#9a9a9a" stroke-width="0.7"/>
<circle cx="549.4" cy="360.8" r="3.2" fill="#fff" stroke="#9a9a9a" stroke-width="0.7"/>
<circle cx="641.1" cy="357.0" r="3.3" fill="#fff" stroke="#9a9a9a" stroke-width="0.7"/>
<line x1="541.6" y1="369.9" x2="550.3" y2="395.4" stroke="#000" stroke-width="1.3" />
<line x1="548.8" y1="358.6" x2="642.8" y2="359.6" stroke="#000" stroke-width="1.3" />
<line x1="524.8" y1="326.5" x2="524.8" y2="416.0" stroke="#555" stroke-width="1" />
<line x1="524.3" y1="416.0" x2="659.7" y2="416.0" stroke="#555" stroke-width="1" />
<line x1="520.5" y1="339.6" x2="524.8" y2="339.6" stroke="#555" stroke-width="1" />
<text x="514.9" y="343.3" font-size="11.5" text-anchor="end" >0</text>
<line x1="520.5" y1="364.8" x2="524.8" y2="364.8" stroke="#555" stroke-width="1" />
<text x="514.9" y="368.5" font-size="11.5" text-anchor="end" >−1</text>
<line x1="520.5" y1="390.4" x2="524.8" y2="390.4" stroke="#555" stroke-width="1" />
<text x="514.9" y="394.1" font-size="11.5" text-anchor="end" >−2</text>
<line x1="520.5" y1="415.8" x2="524.8" y2="415.8" stroke="#555" stroke-width="1" />
<text x="514.9" y="419.5" font-size="11.5" text-anchor="end" >−3</text>
<line x1="536.4" y1="416.0" x2="536.4" y2="420.8" stroke="#555" stroke-width="1" />
<text x="536.4" y="433.6" font-size="11.3" text-anchor="middle" >0</text>
<line x1="567.2" y1="416.0" x2="567.2" y2="420.8" stroke="#555" stroke-width="1" />
<text x="567.2" y="433.6" font-size="11.3" text-anchor="middle" >100</text>
<line x1="598.0" y1="416.0" x2="598.0" y2="420.8" stroke="#555" stroke-width="1" />
<text x="598.0" y="433.6" font-size="11.3" text-anchor="middle" >200</text>
<line x1="628.9" y1="416.0" x2="628.9" y2="420.8" stroke="#555" stroke-width="1" />
<text x="628.9" y="433.6" font-size="11.3" text-anchor="middle" >300</text>
<line x1="659.7" y1="416.0" x2="659.7" y2="420.8" stroke="#555" stroke-width="1" />
<text x="659.7" y="433.6" font-size="11.3" text-anchor="middle" >400</text>
<text x="573.5" y="333.4" font-size="11" text-anchor="start" textLength="47.7" lengthAdjust="spacingAndGlyphs" >Mass gain</text>
<text x="557.8" y="344.9" font-size="11" textLength="77.3" lengthAdjust="spacingAndGlyphs">0.1 ± 0.05 ng s<tspan font-size="7.5" dy="-4">−1</tspan></text>
<text x="580.7" y="386.6" font-size="11" text-anchor="start" textLength="45.8" lengthAdjust="spacingAndGlyphs" >Mass loss</text>
<text x="561.4" y="397.9" font-size="11" textLength="81.4" lengthAdjust="spacingAndGlyphs">−54.0 ± 1.5 ng s<tspan font-size="7.5" dy="-4">−1</tspan></text>
<text x="570.1" y="451.5" font-size="12.5" text-anchor="start" textLength="44.1" lengthAdjust="spacingAndGlyphs" >Time (s)</text>
<text transform="translate(496.0,371.4) rotate(-90)" font-size="12.5" text-anchor="middle">Δ<tspan font-style="italic">m</tspan> (μg)</text>
<path d="M16.4,472.4 H625.5 L622.0,466.8 L642.8,475.2 L622.0,483.7 L625.5,478.2 H16.4 Z" fill="url(#garrow)" stroke="#111" stroke-width="1.1" stroke-linejoin="miter"/>
<text x="70.6" y="497.4" font-size="12.5">MnO<tspan font-size="9" dy="3.2">4</tspan><tspan font-size="9" dy="-8.2" dx="0.2">−</tspan></text>
<text x="111.0" y="497.4" font-size="12.5" text-anchor="start" textLength="62.0" lengthAdjust="spacingAndGlyphs" >generation</text>
<text x="274.0" y="496.3" font-size="12.5">MnO<tspan font-size="9" dy="3.2">4</tspan><tspan font-size="9" dy="-8.2" dx="0.2">−</tspan></text>
<text x="314.4" y="496.3" font-size="12.5" text-anchor="start" textLength="62.0" lengthAdjust="spacingAndGlyphs" >generation</text>
<text x="476.3" y="496.3" font-size="12.5">MnO<tspan font-size="9" dy="3.2">4</tspan><tspan font-size="9" dy="-8.2" dx="0.2">−</tspan></text>
<text x="516.6" y="496.3" font-size="12.5" text-anchor="start" textLength="61.7" lengthAdjust="spacingAndGlyphs" >generation</text>
<line x1="67.4" y1="492.3" x2="57.4" y2="509.0" stroke="#111" stroke-width="1.25" />
<polygon points="55.1,512.9 55.5,507.3 59.8,509.9" fill="#111"/>
<line x1="271.5" y1="494.3" x2="261.6" y2="510.1" stroke="#111" stroke-width="1.25" />
<polygon points="259.2,513.9 259.7,508.3 264.0,511.0" fill="#111"/>
<line x1="471.5" y1="492.7" x2="461.5" y2="509.1" stroke="#111" stroke-width="1.25" />
<polygon points="459.2,512.9 459.7,507.3 463.9,509.9" fill="#111"/>
<defs><linearGradient id="lq0" x1="0" x2="1"><stop offset="0" stop-color="#ead08c"/><stop offset="0.3" stop-color="#d6aa5e"/><stop offset="0.8" stop-color="#d2a65a"/><stop offset="1" stop-color="#e8c880"/></linearGradient><linearGradient id="lq1" x1="0" x2="1"><stop offset="0" stop-color="#e4b8a0"/><stop offset="0.3" stop-color="#bf8768"/><stop offset="0.8" stop-color="#b98264"/><stop offset="1" stop-color="#dcae90"/></linearGradient><linearGradient id="lq2" x1="0" x2="1"><stop offset="0" stop-color="#e2b0b2"/><stop offset="0.25" stop-color="#b2747a"/><stop offset="0.85" stop-color="#ac6e74"/><stop offset="1" stop-color="#c89090"/></linearGradient><linearGradient id="lq3" x1="0" x2="1"><stop offset="0" stop-color="#e0aebb"/><stop offset="0.25" stop-color="#aa6a7c"/><stop offset="0.85" stop-color="#a26274"/><stop offset="1" stop-color="#d09c9c"/></linearGradient></defs>
<rect x="2.2" y="515.0" width="649.2" height="71.8" fill="#d8a955"/>
<g filter="url(#blur1)">
<rect x="2.2" y="515.0" width="33.1" height="71.8" fill="#d8a955"/>
<rect x="3.2" y="516" width="31.1" height="4" fill="#e0b266"/>
<rect x="29.1" y="521" width="5.2" height="63" fill="#d6a656"/>
<rect x="9.5" y="520.0" width="20.1" height="63" rx="1.5" fill="#ecd08c" stroke="#c4934c" stroke-width="0.9"/>
<rect x="3.7" y="530.5" width="6.5" height="52.5" fill="#d6aa5a"/>
<rect x="9.5" y="519.6" width="20.1" height="1.3" fill="#c08a48" opacity="0.8"/>
<rect x="11.0" y="521.5" width="17.6" height="9.0" fill="#f2dc96"/>
<rect x="15.5" y="531.0" width="13.1" height="44.5" rx="2" fill="url(#lq0)"/>
<rect x="11.0" y="574.5" width="17.3" height="7.5" fill="#f6e4ac"/>
<polygon points="11.0,531.5 10.6,534.0 10.9,536.5 11.2,539.0 10.9,541.5 10.9,544.0 11.4,546.5 10.6,549.0 11.9,551.5 10.5,554.0 10.6,556.5 10.6,559.0 11.4,561.5 10.8,564.0 11.2,566.5 11.8,569.0 10.5,571.5 11.3,574.0 10.6,576.5 11.7,579.0 11.5,581.0 16.5,581.0 16.3,579.0 16.5,576.5 17.5,574.0 16.6,571.5 17.5,569.0 17.3,566.5 17.6,564.0 17.5,561.5 16.2,559.0 16.4,556.5 16.1,554.0 17.0,551.5 17.1,549.0 16.6,546.5 17.3,544.0 16.5,541.5 17.5,539.0 17.3,536.5 17.2,534.0 16.3,531.5" fill="#fffbea"/>
</g>
<line x1="35.3" y1="515" x2="35.3" y2="586.8" stroke="#f8f0b8" stroke-width="1.3"/>
<g filter="url(#blur1)">
<rect x="35.3" y="515.0" width="34.2" height="71.8" fill="#d8a955"/>
<rect x="36.3" y="516" width="32.2" height="4" fill="#e0b266"/>
<rect x="63.3" y="521" width="5.2" height="63" fill="#cf9a58"/>
<rect x="42.6" y="520.0" width="21.2" height="63" rx="1.5" fill="#e8c090" stroke="#c4934c" stroke-width="0.9"/>
<rect x="36.8" y="531.8" width="6.5" height="51.2" fill="#c29460"/>
<rect x="42.6" y="519.6" width="21.2" height="1.3" fill="#c08a48" opacity="0.8"/>
<rect x="44.1" y="521.5" width="18.7" height="10.3" fill="#e6c676"/>
<rect x="48.6" y="532.3" width="14.2" height="43.2" rx="2" fill="url(#lq1)"/>
<circle cx="54.9" cy="548.6" r="0.77" fill="#f4d0d0" opacity="0.8"/>
<circle cx="60.1" cy="543.4" r="0.80" fill="#f4d0d0" opacity="0.8"/>
<circle cx="58.2" cy="564.7" r="0.72" fill="#f4d0d0" opacity="0.8"/>
<circle cx="60.1" cy="549.5" r="0.67" fill="#f4d0d0" opacity="0.8"/>
<circle cx="53.3" cy="562.9" r="0.69" fill="#f4d0d0" opacity="0.8"/>
<rect x="44.1" y="574.5" width="18.4" height="7.5" fill="#f2d0bc"/>
<polygon points="44.0,532.8 44.6,535.3 44.6,537.8 44.3,540.3 44.6,542.8 44.3,545.3 44.5,547.8 43.9,550.3 44.5,552.8 44.8,555.3 44.9,557.8 44.1,560.3 43.7,562.8 44.9,565.3 44.4,567.8 43.7,570.3 43.9,572.8 43.8,575.3 44.4,577.8 43.9,580.3 44.6,581.0 49.6,581.0 50.7,580.3 49.2,577.8 50.2,575.3 49.3,572.8 50.2,570.3 49.4,567.8 49.4,565.3 49.8,562.8 49.8,560.3 50.3,557.8 49.9,555.3 50.5,552.8 50.5,550.3 49.3,547.8 50.3,545.3 49.2,542.8 49.4,540.3 49.8,537.8 50.1,535.3 49.5,532.8" fill="#fffaf2"/>
</g>
<line x1="69.5" y1="515" x2="69.5" y2="586.8" stroke="#f8f0b8" stroke-width="1.3"/>
<g filter="url(#blur1)">
<rect x="69.5" y="515.0" width="34.2" height="71.8" fill="#d8a955"/>
<rect x="70.5" y="516" width="32.2" height="4" fill="#e0b266"/>
<rect x="97.5" y="521" width="5.2" height="63" fill="#cf9a58"/>
<rect x="76.8" y="520.0" width="21.2" height="63" rx="1.5" fill="#e8c090" stroke="#c4934c" stroke-width="0.9"/>
<rect x="71.0" y="531.8" width="6.5" height="51.2" fill="#c29460"/>
<rect x="76.8" y="519.6" width="21.2" height="1.3" fill="#c08a48" opacity="0.8"/>
<rect x="78.3" y="521.5" width="18.7" height="10.3" fill="#e6c676"/>
<rect x="82.8" y="532.3" width="14.2" height="43.2" rx="2" fill="url(#lq1)"/>
<circle cx="87.5" cy="555.9" r="0.67" fill="#f4d0d0" opacity="0.8"/>
<circle cx="92.9" cy="557.3" r="0.82" fill="#f4d0d0" opacity="0.8"/>
<circle cx="90.5" cy="543.9" r="0.57" fill="#f4d0d0" opacity="0.8"/>
<circle cx="86.1" cy="564.4" r="0.55" fill="#f4d0d0" opacity="0.8"/>
<circle cx="85.6" cy="568.9" r="0.58" fill="#f4d0d0" opacity="0.8"/>
<rect x="78.3" y="574.5" width="18.4" height="7.5" fill="#f2d0bc"/>
<polygon points="79.1,532.8 78.5,535.3 79.0,537.8 78.7,540.3 79.0,542.8 78.7,545.3 78.0,547.8 78.7,550.3 78.1,552.8 78.5,555.3 77.9,557.8 78.5,560.3 78.6,562.8 78.4,565.3 78.7,567.8 78.3,570.3 78.3,572.8 77.9,575.3 78.1,577.8 78.8,580.3 78.8,581.0 83.8,581.0 84.7,580.3 84.8,577.8 83.7,575.3 84.1,572.8 84.9,570.3 83.7,567.8 84.4,565.3 84.5,562.8 83.5,560.3 83.9,557.8 84.5,555.3 84.2,552.8 84.6,550.3 84.7,547.8 84.1,545.3 83.9,542.8 84.6,540.3 84.3,537.8 83.8,535.3 83.5,532.8" fill="#fffaf2"/>
</g>
<line x1="103.7" y1="515" x2="103.7" y2="586.8" stroke="#f8f0b8" stroke-width="1.3"/>
<g filter="url(#blur1)">
<rect x="103.7" y="515.0" width="34.2" height="71.8" fill="#d8a955"/>
<rect x="104.7" y="516" width="32.2" height="4" fill="#e0b266"/>
<rect x="131.8" y="521" width="5.2" height="63" fill="#cf9a58"/>
<rect x="111.0" y="520.0" width="21.2" height="63" rx="1.5" fill="#e8c090" stroke="#c4934c" stroke-width="0.9"/>
<rect x="105.2" y="531.8" width="6.5" height="51.2" fill="#c29460"/>
<rect x="111.0" y="519.6" width="21.2" height="1.3" fill="#c08a48" opacity="0.8"/>
<rect x="112.5" y="521.5" width="18.7" height="10.3" fill="#e6c676"/>
<rect x="117.0" y="532.3" width="14.2" height="43.2" rx="2" fill="url(#lq1)"/>
<circle cx="129.1" cy="557.5" r="0.87" fill="#f4d0d0" opacity="0.8"/>
<circle cx="124.7" cy="551.3" r="0.88" fill="#f4d0d0" opacity="0.8"/>
<circle cx="128.3" cy="568.4" r="0.69" fill="#f4d0d0" opacity="0.8"/>
<circle cx="127.1" cy="550.9" r="0.90" fill="#f4d0d0" opacity="0.8"/>
<circle cx="128.5" cy="547.2" r="0.87" fill="#f4d0d0" opacity="0.8"/>
<rect x="112.5" y="574.5" width="18.4" height="7.5" fill="#f2d0bc"/>
<polygon points="112.3,532.8 113.1,535.3 112.8,537.8 112.1,540.3 112.4,542.8 112.5,545.3 113.1,547.8 112.2,550.3 112.6,552.8 112.3,555.3 113.0,557.8 113.4,560.3 112.6,562.8 112.5,565.3 112.8,567.8 112.5,570.3 112.4,572.8 113.3,575.3 112.5,577.8 113.2,580.3 113.0,581.0 118.0,581.0 117.7,580.3 118.0,577.8 118.9,575.3 118.3,572.8 118.9,570.3 118.5,567.8 118.3,565.3 117.9,562.8 119.0,560.3 119.1,557.8 118.8,555.3 117.8,552.8 118.1,550.3 118.1,547.8 118.8,545.3 118.3,542.8 118.8,540.3 118.6,537.8 118.1,535.3 117.8,532.8" fill="#fffaf2"/>
</g>
<line x1="138.0" y1="515" x2="138.0" y2="586.8" stroke="#f8f0b8" stroke-width="1.3"/>
<g filter="url(#blur1)">
<rect x="138.0" y="515.0" width="34.2" height="71.8" fill="#d8a955"/>
<rect x="139.0" y="516" width="32.2" height="4" fill="#e0b266"/>
<rect x="166.0" y="521" width="5.2" height="63" fill="#cf9a58"/>
<rect x="145.3" y="520.0" width="21.2" height="63" rx="1.5" fill="#e8c090" stroke="#c4934c" stroke-width="0.9"/>
<rect x="139.5" y="531.8" width="6.5" height="51.2" fill="#c29460"/>
<rect x="145.3" y="519.6" width="21.2" height="1.3" fill="#c08a48" opacity="0.8"/>
<rect x="146.8" y="521.5" width="18.7" height="10.3" fill="#e6c676"/>
<rect x="151.3" y="532.3" width="14.2" height="43.2" rx="2" fill="url(#lq1)"/>
<circle cx="155.0" cy="554.9" r="0.71" fill="#f4d0d0" opacity="0.8"/>
<circle cx="155.4" cy="539.4" r="0.58" fill="#f4d0d0" opacity="0.8"/>
<circle cx="161.2" cy="552.8" r="0.89" fill="#f4d0d0" opacity="0.8"/>
<circle cx="161.4" cy="569.3" r="0.51" fill="#f4d0d0" opacity="0.8"/>
<circle cx="155.6" cy="538.2" r="0.67" fill="#f4d0d0" opacity="0.8"/>
<rect x="146.8" y="574.5" width="18.4" height="7.5" fill="#f2d0bc"/>
<polygon points="146.7,532.8 147.0,535.3 146.7,537.8 147.4,540.3 146.6,542.8 146.9,545.3 147.2,547.8 147.4,550.3 146.4,552.8 147.4,555.3 147.4,557.8 146.7,560.3 146.3,562.8 147.5,565.3 146.9,567.8 147.6,570.3 147.1,572.8 147.0,575.3 146.5,577.8 147.6,580.3 147.3,581.0 152.3,581.0 152.7,580.3 152.9,577.8 152.1,575.3 152.5,572.8 153.1,570.3 152.9,567.8 153.2,565.3 152.8,562.8 152.1,560.3 152.7,557.8 152.6,555.3 153.0,552.8 152.2,550.3 153.2,547.8 152.8,545.3 151.9,542.8 152.5,540.3 152.2,537.8 152.0,535.3 151.9,532.8" fill="#fffaf2"/>
</g>
<line x1="172.2" y1="515" x2="172.2" y2="586.8" stroke="#f8f0b8" stroke-width="1.3"/>
<g filter="url(#blur1)">
<rect x="172.2" y="515.0" width="34.2" height="71.8" fill="#d8a955"/>
<rect x="173.2" y="516" width="32.2" height="4" fill="#e0b266"/>
<rect x="200.2" y="521" width="5.2" height="63" fill="#cf9a58"/>
<rect x="179.5" y="520.0" width="21.2" height="63" rx="1.5" fill="#e8c090" stroke="#c4934c" stroke-width="0.9"/>
<rect x="173.7" y="531.8" width="6.5" height="51.2" fill="#c29460"/>
<rect x="179.5" y="519.6" width="21.2" height="1.3" fill="#c08a48" opacity="0.8"/>
<rect x="181.0" y="521.5" width="18.7" height="10.3" fill="#e6c676"/>
<rect x="185.5" y="532.3" width="14.2" height="43.2" rx="2" fill="url(#lq1)"/>
<circle cx="191.9" cy="549.1" r="0.68" fill="#f4d0d0" opacity="0.8"/>
<circle cx="195.8" cy="552.4" r="0.88" fill="#f4d0d0" opacity="0.8"/>
<circle cx="189.5" cy="547.9" r="0.71" fill="#f4d0d0" opacity="0.8"/>
<circle cx="192.0" cy="565.2" r="0.83" fill="#f4d0d0" opacity="0.8"/>
<circle cx="197.0" cy="557.5" r="0.51" fill="#f4d0d0" opacity="0.8"/>
<rect x="181.0" y="574.5" width="18.4" height="7.5" fill="#f2d0bc"/>
<polygon points="181.3,532.8 181.2,535.3 181.5,537.8 180.6,540.3 181.0,542.8 181.7,545.3 181.4,547.8 181.8,550.3 181.0,552.8 180.9,555.3 181.8,557.8 180.9,560.3 180.9,562.8 180.8,565.3 180.6,567.8 180.8,570.3 181.2,572.8 181.7,575.3 181.6,577.8 180.9,580.3 181.5,581.0 186.5,581.0 187.5,580.3 186.1,577.8 187.0,575.3 187.2,572.8 186.2,570.3 186.4,567.8 187.6,565.3 186.3,562.8 186.7,560.3 187.5,557.8 186.5,555.3 187.3,552.8 186.4,550.3 186.4,547.8 187.5,545.3 186.9,542.8 187.1,540.3 187.4,537.8 186.5,535.3 186.9,532.8" fill="#fffaf2"/>
</g>
<line x1="206.4" y1="515" x2="206.4" y2="586.8" stroke="#f8f0b8" stroke-width="1.3"/>
<g filter="url(#blur1)">
<rect x="206.4" y="515.0" width="34.2" height="71.8" fill="#d8a955"/>
<rect x="207.4" y="516" width="32.2" height="4" fill="#e0b266"/>
<rect x="234.4" y="521" width="5.2" height="63" fill="#cf9a58"/>
<rect x="213.7" y="520.0" width="21.2" height="63" rx="1.5" fill="#e8c090" stroke="#c4934c" stroke-width="0.9"/>
<rect x="207.9" y="531.8" width="6.5" height="51.2" fill="#c29460"/>
<rect x="213.7" y="519.6" width="21.2" height="1.3" fill="#c08a48" opacity="0.8"/>
<rect x="215.2" y="521.5" width="18.7" height="10.3" fill="#e6c676"/>
<rect x="219.7" y="532.3" width="14.2" height="43.2" rx="2" fill="url(#lq1)"/>
<circle cx="222.9" cy="546.4" r="0.69" fill="#f4d0d0" opacity="0.8"/>
<circle cx="224.8" cy="555.4" r="0.52" fill="#f4d0d0" opacity="0.8"/>
<circle cx="224.5" cy="568.6" r="0.56" fill="#f4d0d0" opacity="0.8"/>
<circle cx="231.0" cy="543.5" r="0.90" fill="#f4d0d0" opacity="0.8"/>
<circle cx="228.8" cy="558.6" r="0.56" fill="#f4d0d0" opacity="0.8"/>
<rect x="215.2" y="574.5" width="18.4" height="7.5" fill="#f2d0bc"/>
<polygon points="214.8,532.8 214.9,535.3 215.9,537.8 214.8,540.3 215.4,542.8 214.8,545.3 216.1,547.8 214.9,550.3 214.9,552.8 216.0,555.3 215.0,557.8 216.1,560.3 215.0,562.8 216.0,565.3 215.7,567.8 214.7,570.3 215.7,572.8 215.5,575.3 215.5,577.8 215.4,580.3 215.7,581.0 220.7,581.0 221.5,580.3 221.0,577.8 221.0,575.3 221.5,572.8 220.8,570.3 220.8,567.8 221.0,565.3 220.8,562.8 221.8,560.3 221.7,557.8 220.4,555.3 220.8,552.8 220.5,550.3 220.7,547.8 220.9,545.3 220.9,542.8 221.7,540.3 221.6,537.8 220.6,535.3 221.4,532.8" fill="#fffaf2"/>
</g>
<line x1="240.6" y1="515" x2="240.6" y2="586.8" stroke="#f8f0b8" stroke-width="1.3"/>
<g filter="url(#blur1)">
<rect x="240.6" y="515.0" width="34.2" height="71.8" fill="#d8a955"/>
<rect x="241.6" y="516" width="32.2" height="4" fill="#e0b266"/>
<rect x="268.6" y="521" width="5.2" height="63" fill="#c98f58"/>
<rect x="247.9" y="520.0" width="21.2" height="63" rx="1.5" fill="#e4b8a0" stroke="#c4934c" stroke-width="0.9"/>
<rect x="242.1" y="535.0" width="6.5" height="48.0" fill="#b48464"/>
<rect x="247.9" y="519.6" width="21.2" height="1.3" fill="#c08a48" opacity="0.8"/>
<rect x="249.4" y="521.5" width="18.7" height="13.5" fill="#f0d68c"/>
<rect x="253.9" y="535.5" width="14.2" height="40.0" rx="2" fill="url(#lq2)"/>
<circle cx="258.4" cy="558.2" r="0.87" fill="#f4d0d0" opacity="0.8"/>
<circle cx="264.7" cy="546.2" r="0.89" fill="#f4d0d0" opacity="0.8"/>
<circle cx="264.6" cy="545.9" r="0.61" fill="#f4d0d0" opacity="0.8"/>
<circle cx="258.4" cy="542.5" r="0.89" fill="#f4d0d0" opacity="0.8"/>
<circle cx="260.4" cy="566.3" r="0.55" fill="#f4d0d0" opacity="0.8"/>
<rect x="249.4" y="574.5" width="18.4" height="7.5" fill="#f0c8bc"/>
<polygon points="248.9,536.0 250.0,538.5 249.9,541.0 250.0,543.5 249.7,546.0 249.1,548.5 249.4,551.0 249.4,553.5 249.4,556.0 250.3,558.5 250.1,561.0 249.3,563.5 249.3,566.0 249.6,568.5 249.4,571.0 249.3,573.5 249.6,576.0 249.7,578.5 249.9,581.0 253.5,581.0 254.4,578.5 253.8,576.0 254.6,573.5 254.1,571.0 254.2,568.5 253.3,566.0 254.6,563.5 254.4,561.0 254.5,558.5 254.0,556.0 253.6,553.5 253.9,551.0 254.0,548.5 253.8,546.0 253.3,543.5 253.9,541.0 254.6,538.5 254.4,536.0" fill="#fdeeee"/>
</g>
<line x1="274.8" y1="515" x2="274.8" y2="586.8" stroke="#f8f0b8" stroke-width="1.3"/>
<g filter="url(#blur1)">
<rect x="274.8" y="515.0" width="34.2" height="71.8" fill="#d8a955"/>
<rect x="275.8" y="516" width="32.2" height="4" fill="#e0b266"/>
<rect x="302.9" y="521" width="5.2" height="63" fill="#c98f58"/>
<rect x="282.1" y="520.0" width="21.2" height="63" rx="1.5" fill="#e4b8a0" stroke="#c4934c" stroke-width="0.9"/>
<rect x="276.3" y="535.0" width="6.5" height="48.0" fill="#b48464"/>
<rect x="282.1" y="519.6" width="21.2" height="1.3" fill="#c08a48" opacity="0.8"/>
<rect x="283.6" y="521.5" width="18.7" height="13.5" fill="#f0d68c"/>
<rect x="288.1" y="535.5" width="14.2" height="40.0" rx="2" fill="url(#lq2)"/>
<circle cx="300.2" cy="556.3" r="0.68" fill="#f4d0d0" opacity="0.8"/>
<circle cx="296.6" cy="543.0" r="0.67" fill="#f4d0d0" opacity="0.8"/>
<circle cx="298.9" cy="563.5" r="0.52" fill="#f4d0d0" opacity="0.8"/>
<circle cx="298.9" cy="552.1" r="0.89" fill="#f4d0d0" opacity="0.8"/>
<circle cx="294.2" cy="547.2" r="0.72" fill="#f4d0d0" opacity="0.8"/>
<rect x="283.6" y="574.5" width="18.4" height="7.5" fill="#f0c8bc"/>
<polygon points="284.4,536.0 284.4,538.5 283.6,541.0 283.8,543.5 283.7,546.0 284.4,548.5 283.3,551.0 283.7,553.5 283.3,556.0 283.6,558.5 283.2,561.0 284.4,563.5 284.2,566.0 284.3,568.5 283.8,571.0 283.3,573.5 283.7,576.0 284.4,578.5 284.1,581.0 287.7,581.0 287.8,578.5 288.1,576.0 288.7,573.5 288.4,571.0 288.7,568.5 288.6,566.0 288.1,563.5 288.1,561.0 287.8,558.5 287.5,556.0 288.3,553.5 287.7,551.0 288.2,548.5 288.3,546.0 287.9,543.5 287.8,541.0 288.4,538.5 288.0,536.0" fill="#fdeeee"/>
</g>
<line x1="309.1" y1="515" x2="309.1" y2="586.8" stroke="#f8f0b8" stroke-width="1.3"/>
<g filter="url(#blur1)">
<rect x="309.1" y="515.0" width="34.2" height="71.8" fill="#d8a955"/>
<rect x="310.1" y="516" width="32.2" height="4" fill="#e0b266"/>
<rect x="337.1" y="521" width="5.2" height="63" fill="#c98f58"/>
<rect x="316.4" y="520.0" width="21.2" height="63" rx="1.5" fill="#e4b8a0" stroke="#c4934c" stroke-width="0.9"/>
<rect x="310.6" y="535.0" width="6.5" height="48.0" fill="#b48464"/>
<rect x="316.4" y="519.6" width="21.2" height="1.3" fill="#c08a48" opacity="0.8"/>
<rect x="317.9" y="521.5" width="18.7" height="13.5" fill="#f0d68c"/>
<rect x="322.4" y="535.5" width="14.2" height="40.0" rx="2" fill="url(#lq2)"/>
<circle cx="326.7" cy="564.9" r="0.74" fill="#f4d0d0" opacity="0.8"/>
<circle cx="325.7" cy="541.8" r="0.64" fill="#f4d0d0" opacity="0.8"/>
<circle cx="324.9" cy="565.1" r="0.57" fill="#f4d0d0" opacity="0.8"/>
<circle cx="327.5" cy="552.3" r="0.70" fill="#f4d0d0" opacity="0.8"/>
<circle cx="329.1" cy="559.2" r="0.76" fill="#f4d0d0" opacity="0.8"/>
<rect x="317.9" y="574.5" width="18.4" height="7.5" fill="#f0c8bc"/>
<polygon points="318.0,536.0 318.7,538.5 317.5,541.0 318.4,543.5 317.5,546.0 318.0,548.5 318.6,551.0 317.8,553.5 318.2,556.0 317.6,558.5 317.5,561.0 317.4,563.5 318.1,566.0 317.5,568.5 318.0,571.0 318.1,573.5 318.7,576.0 318.1,578.5 318.4,581.0 322.0,581.0 321.9,578.5 322.6,576.0 322.0,573.5 322.8,571.0 321.9,568.5 322.4,566.0 323.0,563.5 322.5,561.0 322.1,558.5 322.9,556.0 322.2,553.5 322.8,551.0 322.2,548.5 321.6,546.0 323.0,543.5 322.2,541.0 322.6,538.5 321.7,536.0" fill="#fdeeee"/>
</g>
<line x1="343.3" y1="515" x2="343.3" y2="586.8" stroke="#f8f0b8" stroke-width="1.3"/>
<g filter="url(#blur1)">
<rect x="343.3" y="515.0" width="34.2" height="71.8" fill="#d8a955"/>
<rect x="344.3" y="516" width="32.2" height="4" fill="#e0b266"/>
<rect x="371.3" y="521" width="5.2" height="63" fill="#c98f58"/>
<rect x="350.6" y="520.0" width="21.2" height="63" rx="1.5" fill="#e4b8a0" stroke="#c4934c" stroke-width="0.9"/>
<rect x="344.8" y="535.0" width="6.5" height="48.0" fill="#b48464"/>
<rect x="350.6" y="519.6" width="21.2" height="1.3" fill="#c08a48" opacity="0.8"/>
<rect x="352.1" y="521.5" width="18.7" height="13.5" fill="#f0d68c"/>
<rect x="356.6" y="535.5" width="14.2" height="40.0" rx="2" fill="url(#lq2)"/>
<circle cx="362.0" cy="567.1" r="0.55" fill="#f4d0d0" opacity="0.8"/>
<circle cx="364.2" cy="559.0" r="0.64" fill="#f4d0d0" opacity="0.8"/>
<circle cx="366.6" cy="567.4" r="0.84" fill="#f4d0d0" opacity="0.8"/>
<circle cx="366.3" cy="546.9" r="0.52" fill="#f4d0d0" opacity="0.8"/>
<circle cx="363.3" cy="550.1" r="0.58" fill="#f4d0d0" opacity="0.8"/>
<rect x="352.1" y="574.5" width="18.4" height="7.5" fill="#f0c8bc"/>
<polygon points="352.8,536.0 352.7,538.5 351.7,541.0 352.1,543.5 351.8,546.0 352.3,548.5 352.8,551.0 351.7,553.5 352.1,556.0 351.9,558.5 352.6,561.0 351.7,563.5 352.2,566.0 351.9,568.5 351.9,571.0 352.4,573.5 352.6,576.0 352.3,578.5 352.6,581.0 356.2,581.0 356.7,578.5 356.4,576.0 356.0,573.5 356.8,571.0 356.8,568.5 356.6,566.0 356.1,563.5 356.3,561.0 356.2,558.5 356.0,556.0 356.4,553.5 357.0,551.0 356.4,548.5 355.8,546.0 356.1,543.5 357.2,541.0 357.2,538.5 356.1,536.0" fill="#fdeeee"/>
</g>
<line x1="377.5" y1="515" x2="377.5" y2="586.8" stroke="#f8f0b8" stroke-width="1.3"/>
<g filter="url(#blur1)">
<rect x="377.5" y="515.0" width="34.2" height="71.8" fill="#d8a955"/>
<rect x="378.5" y="516" width="32.2" height="4" fill="#e0b266"/>
<rect x="405.5" y="521" width="5.2" height="63" fill="#c98f58"/>
<rect x="384.8" y="520.0" width="21.2" height="63" rx="1.5" fill="#e4b8a0" stroke="#c4934c" stroke-width="0.9"/>
<rect x="379.0" y="535.0" width="6.5" height="48.0" fill="#b48464"/>
<rect x="384.8" y="519.6" width="21.2" height="1.3" fill="#c08a48" opacity="0.8"/>
<rect x="386.3" y="521.5" width="18.7" height="13.5" fill="#f0d68c"/>
<rect x="390.8" y="535.5" width="14.2" height="40.0" rx="2" fill="url(#lq2)"/>
<circle cx="399.4" cy="553.8" r="0.52" fill="#f4d0d0" opacity="0.8"/>
<circle cx="400.9" cy="565.9" r="0.70" fill="#f4d0d0" opacity="0.8"/>
<circle cx="398.9" cy="548.8" r="0.86" fill="#f4d0d0" opacity="0.8"/>
<circle cx="400.0" cy="547.4" r="0.83" fill="#f4d0d0" opacity="0.8"/>
<circle cx="402.9" cy="551.0" r="0.90" fill="#f4d0d0" opacity="0.8"/>
<rect x="386.3" y="574.5" width="18.4" height="7.5" fill="#f0c8bc"/>
<polygon points="386.5,536.0 386.8,538.5 386.8,541.0 386.0,543.5 387.0,546.0 386.6,548.5 386.4,551.0 386.6,553.5 386.1,556.0 386.9,558.5 386.2,561.0 387.0,563.5 387.2,566.0 386.8,568.5 385.8,571.0 386.8,573.5 386.5,576.0 386.1,578.5 386.8,581.0 390.4,581.0 391.0,578.5 390.9,576.0 390.5,573.5 391.0,571.0 390.4,568.5 391.3,566.0 390.8,563.5 391.3,561.0 390.8,558.5 390.1,556.0 391.2,553.5 390.7,551.0 391.3,548.5 390.7,546.0 390.8,543.5 390.9,541.0 390.5,538.5 390.3,536.0" fill="#fdeeee"/>
</g>
<line x1="411.7" y1="515" x2="411.7" y2="586.8" stroke="#f8f0b8" stroke-width="1.3"/>
<g filter="url(#blur1)">
<rect x="411.7" y="515.0" width="34.2" height="71.8" fill="#d8a955"/>
<rect x="412.7" y="516" width="32.2" height="4" fill="#e0b266"/>
<rect x="439.7" y="521" width="5.2" height="63" fill="#c98f58"/>
<rect x="419.0" y="520.0" width="21.2" height="63" rx="1.5" fill="#e4b8a0" stroke="#c4934c" stroke-width="0.9"/>
<rect x="413.2" y="535.0" width="6.5" height="48.0" fill="#b48464"/>
<rect x="419.0" y="519.6" width="21.2" height="1.3" fill="#c08a48" opacity="0.8"/>
<rect x="420.5" y="521.5" width="18.7" height="13.5" fill="#f0d68c"/>
<rect x="425.0" y="535.5" width="14.2" height="40.0" rx="2" fill="url(#lq2)"/>
<circle cx="433.0" cy="552.2" r="0.54" fill="#f4d0d0" opacity="0.8"/>
<circle cx="432.9" cy="550.3" r="0.79" fill="#f4d0d0" opacity="0.8"/>
<circle cx="429.2" cy="552.4" r="0.58" fill="#f4d0d0" opacity="0.8"/>
<circle cx="431.5" cy="557.7" r="0.54" fill="#f4d0d0" opacity="0.8"/>
<circle cx="428.1" cy="555.0" r="0.58" fill="#f4d0d0" opacity="0.8"/>
<rect x="420.5" y="574.5" width="18.4" height="7.5" fill="#f0c8bc"/>
<polygon points="420.7,536.0 420.2,538.5 421.3,541.0 420.7,543.5 420.1,546.0 420.5,548.5 420.2,551.0 420.7,553.5 420.4,556.0 420.3,558.5 420.7,561.0 420.3,563.5 421.1,566.0 421.3,568.5 421.0,571.0 420.3,573.5 421.4,576.0 421.1,578.5 421.0,581.0 424.6,581.0 424.5,578.5 424.7,576.0 424.9,573.5 425.3,571.0 424.4,568.5 425.3,566.0 425.7,563.5 424.5,561.0 425.1,558.5 425.7,556.0 424.9,553.5 425.6,551.0 425.6,548.5 424.6,546.0 424.8,543.5 425.5,541.0 425.0,538.5 424.5,536.0" fill="#fdeeee"/>
</g>
<line x1="445.9" y1="515" x2="445.9" y2="586.8" stroke="#f8f0b8" stroke-width="1.3"/>
<g filter="url(#blur1)">
<rect x="445.9" y="515.0" width="34.2" height="71.8" fill="#d8a955"/>
<rect x="446.9" y="516" width="32.2" height="4" fill="#e0b266"/>
<rect x="474.0" y="521" width="5.2" height="63" fill="#c98f58"/>
<rect x="453.2" y="520.0" width="21.2" height="63" rx="1.5" fill="#e4b8a0" stroke="#c4934c" stroke-width="0.9"/>
<rect x="447.4" y="535.0" width="6.5" height="48.0" fill="#b48464"/>
<rect x="453.2" y="519.6" width="21.2" height="1.3" fill="#c08a48" opacity="0.8"/>
<rect x="454.7" y="521.5" width="18.7" height="13.5" fill="#f0d68c"/>
<rect x="459.2" y="535.5" width="14.2" height="40.0" rx="2" fill="url(#lq2)"/>
<circle cx="468.2" cy="548.8" r="0.70" fill="#f4d0d0" opacity="0.8"/>
<circle cx="465.4" cy="566.2" r="0.80" fill="#f4d0d0" opacity="0.8"/>
<circle cx="466.6" cy="560.9" r="0.67" fill="#f4d0d0" opacity="0.8"/>
<circle cx="469.6" cy="548.5" r="0.72" fill="#f4d0d0" opacity="0.8"/>
<circle cx="467.4" cy="552.3" r="0.52" fill="#f4d0d0" opacity="0.8"/>
<rect x="454.7" y="574.5" width="18.4" height="7.5" fill="#f0c8bc"/>
<polygon points="454.5,536.0 454.5,538.5 454.9,541.0 455.4,543.5 454.8,546.0 455.0,548.5 455.5,551.0 454.5,553.5 455.3,556.0 455.3,558.5 455.0,561.0 455.1,563.5 454.4,566.0 455.5,568.5 454.2,571.0 455.3,573.5 454.9,576.0 455.1,578.5 455.2,581.0 458.8,581.0 458.8,578.5 459.9,576.0 459.0,573.5 458.6,571.0 458.6,568.5 459.4,566.0 458.7,563.5 459.4,561.0 458.7,558.5 459.2,556.0 459.9,553.5 458.7,551.0 459.6,548.5 458.5,546.0 459.5,543.5 459.9,541.0 459.6,538.5 459.4,536.0" fill="#fdeeee"/>
</g>
<line x1="480.2" y1="515" x2="480.2" y2="586.8" stroke="#f8f0b8" stroke-width="1.3"/>
<g filter="url(#blur1)">
<rect x="480.2" y="515.0" width="34.2" height="71.8" fill="#d8a955"/>
<rect x="481.2" y="516" width="32.2" height="4" fill="#e0b266"/>
<rect x="508.2" y="521" width="5.2" height="63" fill="#c38758"/>
<rect x="487.5" y="520.0" width="21.2" height="63" rx="1.5" fill="#e0b0a4" stroke="#c4934c" stroke-width="0.9"/>
<rect x="481.7" y="535.8" width="6.5" height="47.2" fill="#b07c68"/>
<rect x="487.5" y="519.6" width="21.2" height="1.3" fill="#c08a48" opacity="0.8"/>
<rect x="489.0" y="521.5" width="18.7" height="14.3" fill="#f6e2a0"/>
<rect x="493.5" y="536.3" width="14.2" height="39.2" rx="2" fill="url(#lq3)"/>
<circle cx="502.8" cy="541.9" r="0.61" fill="#f4d0d0" opacity="0.8"/>
<circle cx="502.8" cy="546.6" r="0.51" fill="#f4d0d0" opacity="0.8"/>
<circle cx="501.0" cy="551.0" r="0.89" fill="#f4d0d0" opacity="0.8"/>
<circle cx="496.9" cy="564.4" r="0.66" fill="#f4d0d0" opacity="0.8"/>
<circle cx="503.8" cy="554.4" r="0.77" fill="#f4d0d0" opacity="0.8"/>
<rect x="489.0" y="574.5" width="18.4" height="7.5" fill="#ecc0bc"/>
<polygon points="488.9,536.8 489.1,539.3 488.9,541.8 489.0,544.3 488.9,546.8 489.2,549.3 488.9,551.8 488.5,554.3 488.7,556.8 488.8,559.3 489.3,561.8 489.5,564.3 489.1,566.8 488.5,569.3 489.2,571.8 489.8,574.3 489.3,576.8 488.6,579.3 489.5,581.0 492.3,581.0 493.4,579.3 492.5,576.8 492.7,574.3 492.0,571.8 493.1,569.3 492.3,566.8 492.6,564.3 492.9,561.8 493.0,559.3 492.7,556.8 492.4,554.3 491.9,551.8 492.8,549.3 492.7,546.8 492.0,544.3 492.2,541.8 493.1,539.3 492.2,536.8" fill="#f8e0e6"/>
</g>
<line x1="514.4" y1="515" x2="514.4" y2="586.8" stroke="#f8f0b8" stroke-width="1.3"/>
<g filter="url(#blur1)">
<rect x="514.4" y="515.0" width="34.2" height="71.8" fill="#d8a955"/>
<rect x="515.4" y="516" width="32.2" height="4" fill="#e0b266"/>
<rect x="542.4" y="521" width="5.2" height="63" fill="#c38758"/>
<rect x="521.7" y="520.0" width="21.2" height="63" rx="1.5" fill="#e0b0a4" stroke="#c4934c" stroke-width="0.9"/>
<rect x="515.9" y="535.8" width="6.5" height="47.2" fill="#b07c68"/>
<rect x="521.7" y="519.6" width="21.2" height="1.3" fill="#c08a48" opacity="0.8"/>
<rect x="523.2" y="521.5" width="18.7" height="14.3" fill="#f6e2a0"/>
<rect x="527.7" y="536.3" width="14.2" height="39.2" rx="2" fill="url(#lq3)"/>
<circle cx="531.8" cy="552.1" r="0.90" fill="#f4d0d0" opacity="0.8"/>
<circle cx="531.4" cy="555.9" r="0.69" fill="#f4d0d0" opacity="0.8"/>
<circle cx="532.6" cy="567.9" r="0.67" fill="#f4d0d0" opacity="0.8"/>
<circle cx="530.3" cy="555.2" r="0.50" fill="#f4d0d0" opacity="0.8"/>
<circle cx="537.1" cy="566.3" r="0.86" fill="#f4d0d0" opacity="0.8"/>
<rect x="523.2" y="574.5" width="18.4" height="7.5" fill="#ecc0bc"/>
<polygon points="522.7,536.8 523.1,539.3 523.1,541.8 522.9,544.3 522.8,546.8 522.7,549.3 522.9,551.8 523.7,554.3 523.8,556.8 523.6,559.3 523.6,561.8 524.0,564.3 522.8,566.8 524.0,569.3 523.7,571.8 523.2,574.3 523.5,576.8 523.1,579.3 523.7,581.0 526.5,581.0 527.2,579.3 526.1,576.8 526.8,574.3 526.9,571.8 526.7,569.3 527.1,566.8 526.1,564.3 526.8,561.8 526.2,559.3 526.8,556.8 526.9,554.3 526.2,551.8 527.5,549.3 527.5,546.8 527.0,544.3 526.5,541.8 526.8,539.3 527.1,536.8" fill="#f8e0e6"/>
</g>
<line x1="548.6" y1="515" x2="548.6" y2="586.8" stroke="#f8f0b8" stroke-width="1.3"/>
<g filter="url(#blur1)">
<rect x="548.6" y="515.0" width="34.2" height="71.8" fill="#d8a955"/>
<rect x="549.6" y="516" width="32.2" height="4" fill="#e0b266"/>
<rect x="576.6" y="521" width="5.2" height="63" fill="#c38758"/>
<rect x="555.9" y="520.0" width="21.2" height="63" rx="1.5" fill="#e0b0a4" stroke="#c4934c" stroke-width="0.9"/>
<rect x="550.1" y="535.8" width="6.5" height="47.2" fill="#b07c68"/>
<rect x="555.9" y="519.6" width="21.2" height="1.3" fill="#c08a48" opacity="0.8"/>
<rect x="557.4" y="521.5" width="18.7" height="14.3" fill="#f6e2a0"/>
<rect x="561.9" y="536.3" width="14.2" height="39.2" rx="2" fill="url(#lq3)"/>
<circle cx="566.9" cy="555.1" r="0.60" fill="#f4d0d0" opacity="0.8"/>
<circle cx="567.9" cy="560.1" r="0.80" fill="#f4d0d0" opacity="0.8"/>
<circle cx="573.7" cy="555.2" r="0.58" fill="#f4d0d0" opacity="0.8"/>
<circle cx="567.7" cy="543.4" r="0.60" fill="#f4d0d0" opacity="0.8"/>
<circle cx="570.1" cy="559.0" r="0.60" fill="#f4d0d0" opacity="0.8"/>
<rect x="557.4" y="574.5" width="18.4" height="7.5" fill="#ecc0bc"/>
<polygon points="557.2,536.8 557.2,539.3 557.3,541.8 557.7,544.3 557.5,546.8 557.9,549.3 557.4,551.8 557.3,554.3 557.2,556.8 557.7,559.3 557.9,561.8 558.0,564.3 557.4,566.8 557.5,569.3 557.5,571.8 557.9,574.3 557.2,576.8 558.0,579.3 557.9,581.0 560.7,581.0 561.4,579.3 561.6,576.8 561.7,574.3 561.3,571.8 560.6,569.3 561.1,566.8 561.0,564.3 560.5,561.8 561.3,559.3 560.6,556.8 560.6,554.3 561.4,551.8 561.4,549.3 560.4,546.8 560.8,544.3 561.6,541.8 561.1,539.3 560.4,536.8" fill="#f8e0e6"/>
</g>
<line x1="582.8" y1="515" x2="582.8" y2="586.8" stroke="#f8f0b8" stroke-width="1.3"/>
<g filter="url(#blur1)">
<rect x="582.8" y="515.0" width="34.2" height="71.8" fill="#d8a955"/>
<rect x="583.8" y="516" width="32.2" height="4" fill="#e0b266"/>
<rect x="610.8" y="521" width="5.2" height="63" fill="#c38758"/>
<rect x="590.1" y="520.0" width="21.2" height="63" rx="1.5" fill="#e0b0a4" stroke="#c4934c" stroke-width="0.9"/>
<rect x="584.3" y="535.8" width="6.5" height="47.2" fill="#b07c68"/>
<rect x="590.1" y="519.6" width="21.2" height="1.3" fill="#c08a48" opacity="0.8"/>
<rect x="591.6" y="521.5" width="18.7" height="14.3" fill="#f6e2a0"/>
<rect x="596.1" y="536.3" width="14.2" height="39.2" rx="2" fill="url(#lq3)"/>
<circle cx="608.1" cy="545.7" r="0.81" fill="#f4d0d0" opacity="0.8"/>
<circle cx="607.4" cy="545.2" r="0.74" fill="#f4d0d0" opacity="0.8"/>
<circle cx="607.8" cy="550.1" r="0.84" fill="#f4d0d0" opacity="0.8"/>
<circle cx="607.4" cy="554.1" r="0.56" fill="#f4d0d0" opacity="0.8"/>
<circle cx="600.7" cy="565.2" r="0.67" fill="#f4d0d0" opacity="0.8"/>
<rect x="591.6" y="574.5" width="18.4" height="7.5" fill="#ecc0bc"/>
<polygon points="591.6,536.8 592.4,539.3 591.1,541.8 591.6,544.3 592.5,546.8 591.2,549.3 591.5,551.8 592.4,554.3 592.4,556.8 591.5,559.3 591.9,561.8 591.7,564.3 591.5,566.8 592.4,569.3 592.3,571.8 591.5,574.3 591.3,576.8 592.4,579.3 592.1,581.0 594.9,581.0 595.9,579.3 596.0,576.8 594.8,574.3 594.6,571.8 595.6,569.3 595.8,566.8 595.3,564.3 595.4,561.8 594.8,559.3 595.0,556.8 594.9,554.3 594.9,551.8 595.9,549.3 594.9,546.8 595.1,544.3 595.9,541.8 594.9,539.3 595.2,536.8" fill="#f8e0e6"/>
</g>
<line x1="617.0" y1="515" x2="617.0" y2="586.8" stroke="#f8f0b8" stroke-width="1.3"/>
<g filter="url(#blur1)">
<rect x="617.0" y="515.0" width="34.2" height="71.8" fill="#d8a955"/>
<rect x="618.0" y="516" width="32.2" height="4" fill="#e0b266"/>
<rect x="645.1" y="521" width="5.2" height="63" fill="#c38758"/>
<rect x="624.3" y="520.0" width="21.2" height="63" rx="1.5" fill="#e0b0a4" stroke="#c4934c" stroke-width="0.9"/>
<rect x="618.5" y="535.8" width="6.5" height="47.2" fill="#b07c68"/>
<rect x="624.3" y="519.6" width="21.2" height="1.3" fill="#c08a48" opacity="0.8"/>
<rect x="625.8" y="521.5" width="18.7" height="14.3" fill="#f6e2a0"/>
<rect x="630.3" y="536.3" width="14.2" height="39.2" rx="2" fill="url(#lq3)"/>
<circle cx="638.3" cy="545.1" r="0.67" fill="#f4d0d0" opacity="0.8"/>
<circle cx="633.4" cy="567.3" r="0.61" fill="#f4d0d0" opacity="0.8"/>
<circle cx="635.6" cy="568.5" r="0.58" fill="#f4d0d0" opacity="0.8"/>
<circle cx="641.8" cy="550.6" r="0.77" fill="#f4d0d0" opacity="0.8"/>
<circle cx="633.9" cy="567.1" r="0.66" fill="#f4d0d0" opacity="0.8"/>
<rect x="625.8" y="574.5" width="18.4" height="7.5" fill="#ecc0bc"/>
<polygon points="625.8,536.8 626.2,539.3 625.5,541.8 625.4,544.3 625.8,546.8 625.8,549.3 625.8,551.8 625.9,554.3 625.7,556.8 626.4,559.3 626.4,561.8 625.5,564.3 626.5,566.8 625.9,569.3 626.5,571.8 625.8,574.3 625.4,576.8 626.0,579.3 626.3,581.0 629.1,581.0 629.5,579.3 629.6,576.8 629.3,574.3 629.3,571.8 629.5,569.3 629.5,566.8 629.0,564.3 629.5,561.8 629.4,559.3 629.5,556.8 629.2,554.3 629.6,551.8 628.9,549.3 629.0,546.8 630.0,544.3 629.6,541.8 629.1,539.3 629.7,536.8" fill="#f8e0e6"/>
</g>
<line x1="23.5" y1="592.3" x2="632.0" y2="592.3" stroke="#555" stroke-width="1" />
<line x1="35.8" y1="592.3" x2="35.8" y2="598.4" stroke="#555" stroke-width="1" />
<text x="35.8" y="611.7" font-size="10.5" text-anchor="middle" >0</text>
<line x1="98.5" y1="592.3" x2="98.5" y2="598.4" stroke="#555" stroke-width="1" />
<text x="98.5" y="611.7" font-size="10.5" text-anchor="middle" >1</text>
<line x1="161.2" y1="592.3" x2="161.2" y2="598.4" stroke="#555" stroke-width="1" />
<text x="161.2" y="611.7" font-size="10.5" text-anchor="middle" >2</text>
<line x1="223.8" y1="592.3" x2="223.8" y2="598.4" stroke="#555" stroke-width="1" />
<text x="223.8" y="611.7" font-size="10.5" text-anchor="middle" >3</text>
<line x1="286.5" y1="592.3" x2="286.5" y2="598.4" stroke="#555" stroke-width="1" />
<text x="286.5" y="611.7" font-size="10.5" text-anchor="middle" >4</text>
<line x1="349.2" y1="592.3" x2="349.2" y2="598.4" stroke="#555" stroke-width="1" />
<text x="349.2" y="611.7" font-size="10.5" text-anchor="middle" >5</text>
<line x1="411.9" y1="592.3" x2="411.9" y2="598.4" stroke="#555" stroke-width="1" />
<text x="411.9" y="611.7" font-size="10.5" text-anchor="middle" >6</text>
<line x1="474.6" y1="592.3" x2="474.6" y2="598.4" stroke="#555" stroke-width="1" />
<text x="474.6" y="611.7" font-size="10.5" text-anchor="middle" >7</text>
<line x1="537.2" y1="592.3" x2="537.2" y2="598.4" stroke="#555" stroke-width="1" />
<text x="537.2" y="611.7" font-size="10.5" text-anchor="middle" >8</text>
<line x1="599.9" y1="592.3" x2="599.9" y2="598.4" stroke="#555" stroke-width="1" />
<text x="599.9" y="611.7" font-size="10.5" text-anchor="middle" >9</text>
<text x="304.9" y="630.1" font-size="12.5" text-anchor="start" textLength="46.6" lengthAdjust="spacingAndGlyphs" >Time (h)</text>
</svg></body></html>
